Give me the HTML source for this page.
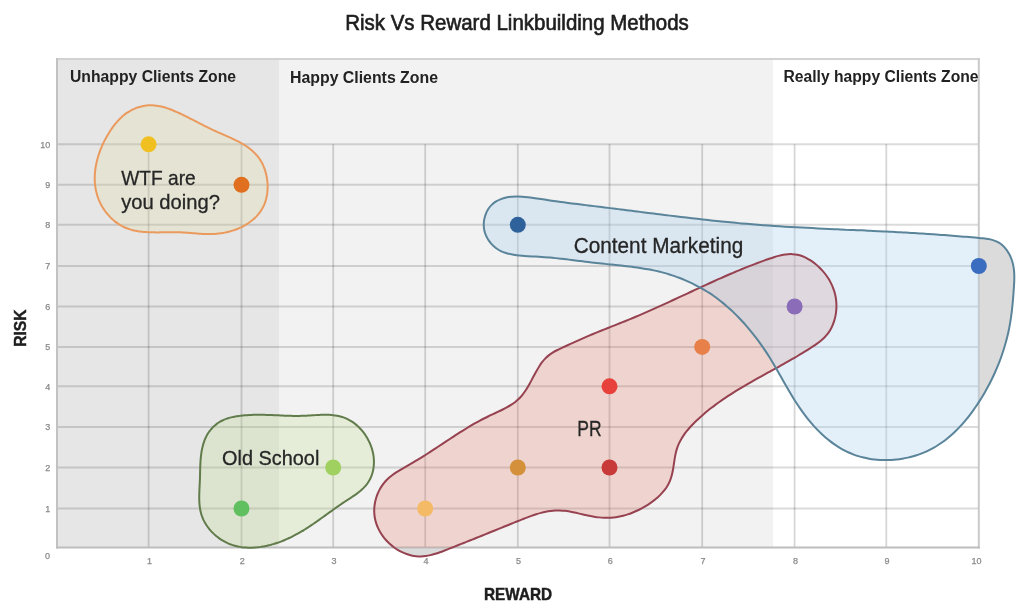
<!DOCTYPE html>
<html><head><meta charset="utf-8"><style>
html,body{margin:0;padding:0;background:#fff;width:1024px;height:613px;overflow:hidden}
svg{display:block;filter:blur(0.5px);font-family:"Liberation Sans",sans-serif}
</style></head><body>
<svg width="1024" height="613" viewBox="0 0 1024 613">
<defs>
<clipPath id="plot"><rect x="57" y="59" width="921.8" height="488.5"/></clipPath>
<clipPath id="outside"><path clip-rule="evenodd" d="M0,0H1024V613H0Z M57,59V547.5H978.8V59Z"/></clipPath>
</defs>
<rect x="0" y="0" width="1024" height="613" fill="#fff"/>
<text x="517" y="30.4" text-anchor="middle" font-size="21.3" fill="#1e1e1e" stroke="#1e1e1e" stroke-width="0.65" textLength="343.5" lengthAdjust="spacingAndGlyphs">Risk Vs Reward Linkbuilding Methods</text>
<rect x="57" y="59" width="222" height="488.5" fill="#e6e6e6"/>
<rect x="279" y="59" width="494" height="488.5" fill="#f2f2f2"/>
<g stroke="#000" stroke-opacity="0.14" stroke-width="2"><line x1="57" y1="508.5" x2="978.8" y2="508.5"/><line x1="57" y1="467.5" x2="978.8" y2="467.5"/><line x1="57" y1="426.9" x2="978.8" y2="426.9"/><line x1="57" y1="386.3" x2="978.8" y2="386.3"/><line x1="57" y1="346.9" x2="978.8" y2="346.9"/><line x1="57" y1="306.5" x2="978.8" y2="306.5"/><line x1="57" y1="266.0" x2="978.8" y2="266.0"/><line x1="57" y1="224.8" x2="978.8" y2="224.8"/><line x1="57" y1="184.8" x2="978.8" y2="184.8"/><line x1="57" y1="144.3" x2="978.8" y2="144.3"/></g>
<g stroke="#000" stroke-opacity="0.16" stroke-width="1.8"><line x1="148.6" y1="144.3" x2="148.6" y2="547.5"/><line x1="241.5" y1="144.3" x2="241.5" y2="547.5"/><line x1="333.2" y1="144.3" x2="333.2" y2="547.5"/><line x1="425.2" y1="144.3" x2="425.2" y2="547.5"/><line x1="517.8" y1="144.3" x2="517.8" y2="547.5"/><line x1="609.5" y1="144.3" x2="609.5" y2="547.5"/><line x1="702.2" y1="144.3" x2="702.2" y2="547.5"/><line x1="794.6" y1="144.3" x2="794.6" y2="547.5"/><line x1="886.3" y1="144.3" x2="886.3" y2="547.5"/></g>
<g fill="#dbdbdb" clip-path="url(#outside)">
<path d="M374.25,508.97 C374.32,507.33 374.49,505.67 374.74,504.05 C375.00,502.41 375.36,500.77 375.80,499.17 C376.24,497.57 376.77,495.98 377.39,494.43 C378.00,492.88 378.70,491.36 379.48,489.89 C380.25,488.43 381.11,487.01 382.04,485.65 C382.97,484.30 383.97,483.00 385.04,481.78 C386.11,480.56 387.26,479.42 388.45,478.33 C389.64,477.24 390.90,476.22 392.19,475.24 C393.48,474.26 394.83,473.34 396.19,472.44 C397.55,471.54 398.96,470.69 400.37,469.84 C401.78,469.00 403.22,468.18 404.65,467.37 C406.09,466.55 407.54,465.75 408.97,464.93 C410.40,464.11 411.83,463.29 413.25,462.46 C414.67,461.63 416.07,460.79 417.47,459.94 C418.87,459.09 420.26,458.23 421.64,457.37 C423.03,456.50 424.40,455.63 425.78,454.76 C427.15,453.88 428.51,453.00 429.88,452.11 C431.24,451.23 432.59,450.34 433.95,449.45 C435.30,448.56 436.66,447.66 438.01,446.77 C439.36,445.88 440.71,444.98 442.06,444.08 C443.41,443.19 444.76,442.29 446.11,441.39 C447.46,440.50 448.81,439.60 450.17,438.71 C451.52,437.82 452.88,436.93 454.24,436.05 C455.61,435.17 456.97,434.28 458.35,433.41 C459.72,432.53 461.10,431.66 462.48,430.80 C463.87,429.94 465.26,429.08 466.66,428.23 C468.06,427.38 469.47,426.54 470.88,425.71 C472.30,424.87 473.73,424.05 475.17,423.24 C476.61,422.42 478.06,421.62 479.52,420.83 C480.99,420.04 482.46,419.26 483.95,418.50 C485.44,417.73 486.94,416.98 488.46,416.24 C489.98,415.50 491.52,414.78 493.05,414.06 C494.59,413.34 496.15,412.64 497.69,411.92 C499.23,411.21 500.77,410.49 502.28,409.75 C503.79,409.00 505.29,408.25 506.75,407.45 C508.20,406.65 509.64,405.84 511.01,404.95 C512.38,404.08 513.72,403.17 514.99,402.19 C516.25,401.21 517.46,400.17 518.59,399.07 C519.73,397.96 520.79,396.79 521.80,395.57 C522.82,394.35 523.77,393.07 524.69,391.76 C525.61,390.45 526.47,389.09 527.32,387.71 C528.17,386.32 528.97,384.90 529.77,383.47 C530.57,382.04 531.34,380.58 532.12,379.12 C532.90,377.67 533.65,376.19 534.43,374.73 C535.22,373.28 535.99,371.82 536.81,370.39 C537.62,368.97 538.45,367.55 539.33,366.18 C540.20,364.83 541.11,363.48 542.08,362.21 C543.05,360.95 544.07,359.71 545.16,358.57 C546.26,357.43 547.42,356.34 548.66,355.35 C549.91,354.35 551.25,353.46 552.62,352.61 C554.01,351.75 555.47,350.99 556.93,350.24 C558.41,349.48 559.93,348.79 561.43,348.08 C562.94,347.37 564.46,346.68 565.97,345.99 C567.48,345.29 568.99,344.60 570.49,343.91 C571.99,343.22 573.50,342.53 575.00,341.85 C576.50,341.17 578.00,340.49 579.50,339.82 C581.00,339.15 582.50,338.48 584.00,337.82 C585.51,337.17 587.01,336.52 588.52,335.87 C590.03,335.23 591.54,334.60 593.05,333.97 C594.57,333.34 596.08,332.72 597.60,332.10 C599.12,331.48 600.64,330.87 602.16,330.26 C603.68,329.66 605.20,329.05 606.72,328.45 C608.24,327.85 609.76,327.25 611.29,326.65 C612.81,326.05 614.33,325.45 615.85,324.85 C617.37,324.24 618.89,323.64 620.41,323.04 C621.93,322.43 623.45,321.83 624.97,321.21 C626.48,320.60 628.00,319.99 629.51,319.36 C631.02,318.74 632.53,318.12 634.04,317.48 C635.55,316.85 637.05,316.21 638.56,315.57 C640.06,314.93 641.56,314.28 643.06,313.63 C644.56,312.98 646.06,312.33 647.55,311.67 C649.05,311.01 650.54,310.34 652.04,309.68 C653.53,309.01 655.02,308.34 656.51,307.67 C658.00,307.00 659.49,306.32 660.98,305.65 C662.47,304.97 663.95,304.29 665.44,303.61 C666.93,302.93 668.41,302.24 669.90,301.56 C671.38,300.87 672.87,300.19 674.35,299.50 C675.84,298.81 677.32,298.12 678.80,297.43 C680.29,296.74 681.77,296.05 683.25,295.36 C684.74,294.67 686.22,293.98 687.70,293.29 C689.19,292.60 690.67,291.91 692.16,291.22 C693.64,290.53 695.13,289.84 696.61,289.15 C698.10,288.46 699.58,287.77 701.07,287.09 C702.56,286.40 704.04,285.72 705.53,285.04 C707.02,284.36 708.51,283.67 710.00,283.00 C711.49,282.32 712.98,281.64 714.48,280.97 C715.97,280.30 717.47,279.63 718.96,278.96 C720.46,278.30 721.96,277.63 723.46,276.98 C724.96,276.32 726.46,275.66 727.96,275.01 C729.47,274.36 730.97,273.71 732.48,273.07 C733.99,272.42 735.50,271.79 737.01,271.15 C738.52,270.52 740.04,269.89 741.56,269.27 C743.07,268.65 744.59,268.03 746.12,267.42 C747.64,266.81 749.17,266.20 750.69,265.60 C752.22,265.01 753.76,264.41 755.29,263.83 C756.83,263.24 758.36,262.66 759.91,262.09 C761.45,261.52 762.99,260.95 764.54,260.40 C766.09,259.84 767.64,259.29 769.20,258.75 C770.75,258.22 772.31,257.69 773.88,257.21 C775.43,256.73 777.00,256.26 778.57,255.86 C780.12,255.47 781.69,255.11 783.26,254.83 C784.82,254.56 786.39,254.34 787.95,254.22 C789.51,254.11 791.08,254.06 792.64,254.14 C794.20,254.21 795.76,254.38 797.30,254.69 C798.87,255.00 800.43,255.43 801.95,255.98 C803.51,256.54 805.04,257.25 806.54,258.03 C808.06,258.82 809.54,259.74 810.98,260.69 C812.43,261.66 813.84,262.71 815.19,263.80 C816.53,264.88 817.83,266.03 819.08,267.21 C820.31,268.38 821.49,269.60 822.61,270.86 C823.72,272.11 824.78,273.41 825.78,274.74 C826.77,276.06 827.70,277.42 828.57,278.82 C829.43,280.21 830.23,281.63 830.96,283.09 C831.69,284.53 832.35,286.01 832.94,287.52 C833.53,289.02 834.05,290.55 834.49,292.09 C834.94,293.64 835.31,295.21 835.60,296.79 C835.90,298.38 836.12,299.99 836.26,301.60 C836.40,303.22 836.46,304.85 836.44,306.48 C836.42,308.13 836.32,309.78 836.14,311.42 C835.96,313.07 835.70,314.72 835.36,316.34 C835.02,317.96 834.59,319.58 834.09,321.15 C833.59,322.72 833.00,324.28 832.34,325.79 C831.67,327.28 830.93,328.75 830.10,330.16 C829.28,331.55 828.37,332.91 827.38,334.19 C826.40,335.46 825.32,336.66 824.18,337.80 C823.04,338.93 821.81,339.98 820.56,340.99 C819.30,342.01 817.97,342.95 816.64,343.89 C815.31,344.83 813.94,345.73 812.57,346.63 C811.21,347.53 809.83,348.42 808.45,349.30 C807.06,350.18 805.67,351.05 804.28,351.92 C802.88,352.78 801.48,353.63 800.07,354.48 C798.66,355.33 797.25,356.17 795.83,357.00 C794.41,357.83 792.99,358.66 791.56,359.48 C790.13,360.31 788.70,361.12 787.27,361.93 C785.84,362.75 784.40,363.56 782.96,364.36 C781.52,365.17 780.08,365.97 778.63,366.77 C777.19,367.57 775.75,368.37 774.30,369.17 C772.86,369.96 771.41,370.76 769.96,371.55 C768.52,372.35 767.07,373.15 765.63,373.94 C764.18,374.74 762.74,375.54 761.29,376.34 C759.85,377.14 758.41,377.94 756.97,378.74 C755.53,379.55 754.10,380.36 752.66,381.17 C751.23,381.98 749.80,382.80 748.38,383.62 C746.95,384.44 745.53,385.27 744.11,386.10 C742.70,386.93 741.29,387.77 739.88,388.62 C738.48,389.46 737.08,390.31 735.68,391.18 C734.29,392.04 732.90,392.91 731.52,393.78 C730.14,394.66 728.77,395.55 727.41,396.45 C726.04,397.35 724.69,398.25 723.34,399.17 C721.99,400.09 720.65,401.02 719.32,401.97 C718.00,402.91 716.68,403.87 715.37,404.83 C714.06,405.80 712.76,406.79 711.48,407.78 C710.19,408.78 708.91,409.79 707.65,410.82 C706.39,411.84 705.14,412.88 703.90,413.94 C702.66,415.00 701.43,416.07 700.22,417.16 C699.01,418.26 697.81,419.37 696.63,420.49 C695.45,421.62 694.28,422.77 693.14,423.94 C692.00,425.10 690.88,426.29 689.80,427.51 C688.72,428.72 687.66,429.96 686.66,431.22 C685.65,432.49 684.68,433.78 683.77,435.10 C682.87,436.43 682.00,437.78 681.20,439.16 C680.41,440.55 679.66,441.97 679.00,443.42 C678.33,444.88 677.73,446.37 677.21,447.89 C676.69,449.42 676.26,451.00 675.88,452.58 C675.49,454.18 675.20,455.81 674.91,457.45 C674.61,459.09 674.38,460.75 674.13,462.41 C673.87,464.07 673.65,465.73 673.38,467.39 C673.11,469.03 672.84,470.68 672.49,472.30 C672.14,473.91 671.77,475.51 671.29,477.07 C670.82,478.62 670.27,480.16 669.62,481.63 C668.97,483.10 668.22,484.53 667.39,485.91 C666.55,487.30 665.62,488.63 664.64,489.92 C663.64,491.22 662.56,492.46 661.44,493.66 C660.31,494.87 659.11,496.02 657.87,497.14 C656.62,498.26 655.32,499.33 653.99,500.36 C652.66,501.39 651.28,502.38 649.89,503.32 C648.49,504.27 647.06,505.18 645.61,506.04 C644.18,506.91 642.72,507.74 641.24,508.52 C639.78,509.31 638.30,510.05 636.81,510.75 C635.32,511.44 633.81,512.10 632.30,512.71 C630.79,513.31 629.26,513.87 627.72,514.37 C626.19,514.88 624.64,515.33 623.08,515.73 C621.52,516.13 619.95,516.48 618.37,516.77 C616.79,517.05 615.20,517.29 613.60,517.45 C612.00,517.62 610.39,517.73 608.77,517.78 C607.15,517.83 605.52,517.81 603.89,517.74 C602.25,517.67 600.61,517.54 598.98,517.37 C597.33,517.20 595.69,516.97 594.05,516.71 C592.41,516.44 590.77,516.13 589.14,515.80 C587.51,515.47 585.88,515.09 584.25,514.73 C582.62,514.36 580.99,513.97 579.37,513.60 C577.75,513.23 576.13,512.85 574.51,512.51 C572.89,512.17 571.28,511.84 569.66,511.56 C568.05,511.28 566.44,511.03 564.83,510.84 C563.23,510.66 561.62,510.51 560.01,510.46 C558.41,510.40 556.81,510.41 555.21,510.49 C553.62,510.57 552.02,510.73 550.43,510.94 C548.84,511.16 547.25,511.44 545.67,511.76 C544.08,512.09 542.50,512.48 540.92,512.90 C539.34,513.32 537.76,513.79 536.20,514.28 C534.62,514.78 533.06,515.31 531.49,515.87 C529.93,516.42 528.37,517.00 526.82,517.59 C525.26,518.18 523.71,518.80 522.16,519.41 C520.62,520.02 519.08,520.64 517.54,521.25 C516.00,521.87 514.47,522.48 512.94,523.10 C511.41,523.71 509.89,524.33 508.36,524.95 C506.84,525.56 505.32,526.17 503.81,526.79 C502.29,527.40 500.78,528.01 499.26,528.63 C497.75,529.24 496.24,529.85 494.73,530.47 C493.23,531.08 491.72,531.69 490.21,532.30 C488.71,532.91 487.20,533.52 485.70,534.13 C484.19,534.74 482.68,535.35 481.18,535.96 C479.67,536.57 478.17,537.18 476.66,537.79 C475.15,538.40 473.64,539.00 472.13,539.61 C470.62,540.22 469.11,540.82 467.60,541.43 C466.08,542.03 464.57,542.64 463.05,543.24 C461.53,543.85 460.00,544.45 458.48,545.05 C456.95,545.66 455.42,546.26 453.89,546.86 C452.35,547.46 450.82,548.06 449.28,548.66 C447.73,549.26 446.18,549.86 444.63,550.46 C443.08,551.05 441.52,551.65 439.96,552.21 C438.40,552.77 436.83,553.32 435.25,553.81 C433.69,554.29 432.11,554.75 430.52,555.13 C428.94,555.50 427.35,555.83 425.75,556.05 C424.16,556.27 422.56,556.42 420.96,556.45 C419.36,556.49 417.74,556.41 416.14,556.24 C414.54,556.07 412.93,555.79 411.35,555.42 C409.76,555.05 408.18,554.58 406.64,554.04 C405.08,553.49 403.55,552.85 402.06,552.14 C400.56,551.43 399.09,550.63 397.66,549.77 C396.24,548.91 394.85,547.97 393.52,546.97 C392.18,545.97 390.89,544.90 389.66,543.78 C388.44,542.66 387.26,541.48 386.14,540.25 C385.04,539.02 383.98,537.73 383.00,536.40 C382.02,535.08 381.11,533.70 380.27,532.29 C379.44,530.88 378.68,529.42 378.01,527.94 C377.34,526.45 376.74,524.93 376.24,523.39 C375.74,521.85 375.33,520.27 375.01,518.68 C374.69,517.10 374.47,515.48 374.34,513.86 C374.22,512.24 374.18,510.60 374.25,508.97 Z"/><path d="M483.73,224.99 C483.71,223.12 483.90,221.20 484.25,219.34 C484.60,217.48 485.15,215.60 485.85,213.84 C486.55,212.09 487.42,210.37 488.44,208.82 C489.45,207.30 490.62,205.85 491.92,204.61 C493.19,203.39 494.64,202.32 496.14,201.40 C497.65,200.48 499.29,199.74 500.94,199.10 C502.61,198.47 504.37,197.99 506.13,197.60 C507.89,197.21 509.71,196.95 511.51,196.77 C513.31,196.58 515.14,196.51 516.95,196.50 C518.78,196.48 520.61,196.56 522.44,196.68 C524.28,196.79 526.11,196.98 527.95,197.19 C529.79,197.40 531.64,197.66 533.48,197.92 C535.32,198.18 537.16,198.48 539.01,198.76 C540.85,199.04 542.69,199.32 544.52,199.60 C546.36,199.87 548.19,200.14 550.03,200.41 C551.86,200.67 553.69,200.93 555.52,201.19 C557.35,201.44 559.18,201.70 561.00,201.94 C562.83,202.19 564.65,202.44 566.48,202.68 C568.30,202.92 570.12,203.16 571.94,203.39 C573.76,203.63 575.58,203.86 577.40,204.09 C579.21,204.32 581.03,204.55 582.85,204.78 C584.66,205.01 586.48,205.23 588.29,205.46 C590.11,205.68 591.92,205.90 593.74,206.13 C595.55,206.35 597.36,206.57 599.18,206.79 C600.99,207.02 602.80,207.24 604.62,207.46 C606.43,207.68 608.24,207.91 610.06,208.13 C611.87,208.35 613.68,208.58 615.50,208.80 C617.31,209.03 619.13,209.26 620.94,209.48 C622.76,209.71 624.57,209.94 626.39,210.16 C628.20,210.39 630.02,210.62 631.83,210.85 C633.65,211.08 635.46,211.31 637.28,211.54 C639.10,211.77 640.91,211.99 642.73,212.22 C644.55,212.45 646.37,212.68 648.18,212.91 C650.00,213.14 651.82,213.37 653.64,213.59 C655.46,213.82 657.27,214.05 659.09,214.27 C660.91,214.50 662.73,214.73 664.55,214.95 C666.37,215.18 668.19,215.40 670.01,215.62 C671.83,215.85 673.65,216.07 675.47,216.29 C677.29,216.51 679.11,216.73 680.93,216.95 C682.75,217.16 684.58,217.38 686.40,217.60 C688.22,217.81 690.04,218.02 691.86,218.24 C693.69,218.45 695.51,218.66 697.33,218.86 C699.16,219.07 700.98,219.28 702.80,219.48 C704.63,219.69 706.45,219.89 708.28,220.09 C710.10,220.28 711.93,220.48 713.75,220.68 C715.58,220.87 717.40,221.06 719.23,221.25 C721.05,221.44 722.88,221.63 724.71,221.81 C726.53,221.99 728.36,222.17 730.19,222.35 C732.01,222.53 733.84,222.70 735.67,222.87 C737.50,223.04 739.32,223.21 741.15,223.38 C742.98,223.54 744.81,223.70 746.64,223.86 C748.47,224.02 750.30,224.17 752.13,224.32 C753.96,224.47 755.79,224.61 757.62,224.76 C759.45,224.90 761.28,225.04 763.11,225.17 C764.94,225.31 766.77,225.44 768.60,225.57 C770.44,225.69 772.27,225.82 774.10,225.94 C775.93,226.06 777.76,226.18 779.60,226.30 C781.43,226.41 783.26,226.52 785.09,226.63 C786.93,226.74 788.76,226.85 790.59,226.96 C792.43,227.06 794.26,227.17 796.09,227.27 C797.93,227.37 799.76,227.47 801.59,227.56 C803.43,227.66 805.26,227.75 807.09,227.85 C808.93,227.94 810.76,228.03 812.59,228.12 C814.43,228.21 816.26,228.30 818.09,228.39 C819.93,228.48 821.76,228.56 823.59,228.65 C825.43,228.73 827.26,228.82 829.09,228.90 C830.93,228.98 832.76,229.07 834.59,229.15 C836.42,229.23 838.26,229.31 840.09,229.40 C841.92,229.48 843.75,229.56 845.58,229.64 C847.42,229.72 849.25,229.80 851.08,229.88 C852.91,229.96 854.74,230.05 856.57,230.13 C858.40,230.21 860.23,230.29 862.06,230.37 C863.90,230.46 865.72,230.54 867.55,230.63 C869.38,230.71 871.21,230.80 873.04,230.88 C874.87,230.97 876.70,231.06 878.53,231.14 C880.35,231.23 882.18,231.32 884.01,231.42 C885.84,231.51 887.66,231.60 889.49,231.70 C891.32,231.79 893.14,231.89 894.97,231.99 C896.79,232.09 898.62,232.19 900.44,232.29 C902.27,232.39 904.09,232.49 905.92,232.60 C907.74,232.71 909.57,232.81 911.39,232.92 C913.22,233.03 915.04,233.15 916.87,233.26 C918.70,233.37 920.52,233.49 922.35,233.61 C924.18,233.72 926.00,233.84 927.83,233.97 C929.66,234.09 931.49,234.21 933.32,234.34 C935.14,234.46 936.97,234.59 938.81,234.72 C940.64,234.85 942.47,234.99 944.30,235.12 C946.14,235.26 947.97,235.40 949.80,235.54 C951.64,235.68 953.48,235.82 955.31,235.96 C957.15,236.11 958.99,236.25 960.83,236.40 C962.67,236.55 964.52,236.70 966.36,236.86 C968.21,237.01 970.05,237.17 971.90,237.33 C973.75,237.49 975.60,237.65 977.45,237.82 C979.30,237.98 981.16,238.13 983.00,238.34 C984.82,238.55 986.66,238.76 988.44,239.10 C990.21,239.44 991.97,239.81 993.64,240.37 C995.30,240.93 996.93,241.59 998.44,242.45 C999.95,243.32 1001.39,244.38 1002.70,245.56 C1004.03,246.76 1005.25,248.15 1006.35,249.60 C1007.47,251.07 1008.47,252.69 1009.34,254.33 C1010.23,255.98 1010.99,257.74 1011.63,259.50 C1012.26,261.25 1012.76,263.07 1013.16,264.88 C1013.55,266.68 1013.81,268.51 1014.00,270.33 C1014.19,272.16 1014.27,274.01 1014.30,275.85 C1014.34,277.69 1014.29,279.54 1014.23,281.39 C1014.16,283.25 1014.04,285.10 1013.92,286.95 C1013.80,288.80 1013.66,290.65 1013.53,292.50 C1013.39,294.35 1013.25,296.19 1013.10,298.03 C1012.95,299.87 1012.79,301.70 1012.61,303.54 C1012.44,305.37 1012.26,307.19 1012.05,309.02 C1011.85,310.84 1011.64,312.66 1011.40,314.48 C1011.16,316.29 1010.91,318.10 1010.63,319.91 C1010.34,321.71 1010.04,323.51 1009.71,325.31 C1009.39,327.10 1009.03,328.89 1008.66,330.68 C1008.28,332.46 1007.88,334.24 1007.45,336.02 C1007.02,337.79 1006.57,339.56 1006.10,341.32 C1005.62,343.08 1005.13,344.84 1004.61,346.59 C1004.08,348.34 1003.54,350.08 1002.97,351.81 C1002.40,353.55 1001.81,355.28 1001.20,357.00 C1000.58,358.72 999.95,360.43 999.29,362.14 C998.63,363.84 997.94,365.54 997.24,367.23 C996.54,368.92 995.81,370.60 995.06,372.27 C994.31,373.95 993.54,375.61 992.75,377.27 C991.96,378.92 991.15,380.57 990.31,382.21 C989.48,383.84 988.62,385.47 987.75,387.09 C986.87,388.71 985.97,390.32 985.05,391.92 C984.14,393.51 983.20,395.10 982.24,396.68 C981.28,398.26 980.30,399.83 979.30,401.38 C978.30,402.94 977.29,404.49 976.25,406.02 C975.21,407.55 974.15,409.07 973.07,410.57 C971.99,412.07 970.88,413.55 969.76,415.02 C968.63,416.48 967.49,417.93 966.32,419.35 C965.15,420.78 963.95,422.18 962.74,423.56 C961.52,424.93 960.28,426.28 959.02,427.61 C957.75,428.93 956.46,430.23 955.15,431.49 C953.84,432.75 952.50,433.99 951.13,435.19 C949.77,436.39 948.38,437.56 946.96,438.69 C945.55,439.82 944.10,440.92 942.63,441.98 C941.16,443.04 939.66,444.06 938.14,445.03 C936.61,446.01 935.06,446.94 933.48,447.83 C931.90,448.72 930.29,449.57 928.65,450.37 C927.01,451.17 925.34,451.92 923.64,452.62 C921.95,453.33 920.22,453.98 918.48,454.59 C916.74,455.19 914.97,455.75 913.18,456.26 C911.40,456.77 909.59,457.23 907.78,457.63 C905.96,458.04 904.13,458.40 902.29,458.71 C900.45,459.02 898.60,459.28 896.74,459.48 C894.89,459.69 893.02,459.85 891.16,459.95 C889.29,460.05 887.43,460.11 885.56,460.11 C883.70,460.11 881.84,460.05 879.98,459.95 C878.13,459.84 876.28,459.69 874.44,459.48 C872.60,459.26 870.77,459.00 868.95,458.68 C867.14,458.36 865.34,457.99 863.56,457.56 C861.78,457.14 860.02,456.66 858.28,456.12 C856.54,455.58 854.82,454.99 853.13,454.35 C851.44,453.70 849.78,453.00 848.14,452.24 C846.50,451.49 844.89,450.68 843.30,449.83 C841.72,448.97 840.16,448.06 838.62,447.12 C837.09,446.17 835.58,445.17 834.10,444.14 C832.62,443.10 831.16,442.02 829.73,440.90 C828.29,439.79 826.89,438.63 825.51,437.44 C824.12,436.25 822.77,435.02 821.43,433.76 C820.10,432.51 818.79,431.21 817.51,429.90 C816.23,428.58 814.97,427.23 813.73,425.86 C812.50,424.49 811.29,423.09 810.10,421.67 C808.91,420.25 807.75,418.81 806.61,417.35 C805.47,415.90 804.35,414.42 803.26,412.92 C802.16,411.43 801.09,409.93 800.05,408.41 C799.00,406.89 797.98,405.36 796.97,403.82 C795.96,402.28 794.98,400.72 794.01,399.17 C793.04,397.61 792.08,396.04 791.14,394.47 C790.19,392.90 789.27,391.32 788.34,389.74 C787.42,388.15 786.51,386.57 785.60,384.98 C784.69,383.39 783.79,381.80 782.88,380.20 C781.98,378.61 781.08,377.02 780.18,375.43 C779.28,373.84 778.37,372.25 777.46,370.66 C776.55,369.07 775.64,367.49 774.71,365.91 C773.78,364.33 772.85,362.76 771.90,361.19 C770.95,359.63 769.99,358.07 769.02,356.52 C768.04,354.97 767.05,353.42 766.04,351.89 C765.03,350.36 764.00,348.84 762.96,347.33 C761.92,345.82 760.86,344.32 759.79,342.83 C758.71,341.34 757.62,339.86 756.51,338.40 C755.40,336.93 754.28,335.48 753.14,334.04 C752.00,332.60 750.84,331.18 749.66,329.77 C748.49,328.36 747.30,326.96 746.09,325.58 C744.88,324.21 743.66,322.84 742.42,321.49 C741.17,320.15 739.92,318.82 738.64,317.50 C737.36,316.19 736.07,314.89 734.76,313.61 C733.45,312.34 732.12,311.08 730.78,309.84 C729.43,308.60 728.07,307.38 726.69,306.18 C725.32,304.98 723.92,303.80 722.50,302.65 C721.09,301.49 719.66,300.36 718.21,299.25 C716.75,298.14 715.28,297.06 713.79,296.01 C712.30,294.95 710.79,293.93 709.26,292.93 C707.73,291.94 706.18,290.97 704.61,290.04 C703.04,289.10 701.44,288.21 699.83,287.34 C698.21,286.47 696.57,285.64 694.93,284.82 C693.28,284.01 691.61,283.22 689.94,282.44 C688.27,281.66 686.59,280.88 684.90,280.15 C683.21,279.41 681.51,278.70 679.80,278.03 C678.10,277.36 676.38,276.72 674.65,276.12 C672.92,275.52 671.18,274.96 669.44,274.42 C667.70,273.89 665.94,273.39 664.18,272.91 C662.42,272.44 660.66,271.99 658.88,271.57 C657.11,271.15 655.33,270.76 653.54,270.39 C651.76,270.01 649.97,269.67 648.17,269.34 C646.37,269.01 644.57,268.70 642.77,268.41 C640.96,268.12 639.15,267.84 637.34,267.58 C635.52,267.32 633.71,267.08 631.89,266.84 C630.07,266.61 628.24,266.39 626.42,266.17 C624.60,265.96 622.77,265.76 620.94,265.56 C619.11,265.36 617.29,265.17 615.46,264.98 C613.63,264.78 611.80,264.60 609.97,264.41 C608.14,264.23 606.31,264.04 604.48,263.85 C602.66,263.66 600.83,263.47 599.01,263.27 C597.18,263.08 595.36,262.88 593.54,262.67 C591.72,262.46 589.90,262.24 588.08,262.02 C586.27,261.80 584.45,261.57 582.64,261.35 C580.82,261.12 579.01,260.89 577.20,260.67 C575.38,260.44 573.57,260.21 571.76,259.99 C569.94,259.77 568.13,259.54 566.31,259.33 C564.50,259.11 562.68,258.90 560.86,258.70 C559.04,258.50 557.22,258.30 555.40,258.12 C553.57,257.93 551.75,257.76 549.92,257.59 C548.09,257.43 546.26,257.28 544.42,257.14 C542.58,257.01 540.74,256.89 538.90,256.78 C537.05,256.67 535.20,256.59 533.35,256.49 C531.50,256.39 529.65,256.30 527.80,256.18 C525.95,256.06 524.10,255.94 522.25,255.77 C520.41,255.61 518.57,255.43 516.74,255.18 C514.90,254.94 513.07,254.68 511.26,254.31 C509.46,253.95 507.66,253.55 505.91,253.00 C504.18,252.46 502.46,251.82 500.84,251.03 C499.22,250.23 497.65,249.28 496.19,248.22 C494.73,247.15 493.34,245.94 492.09,244.64 C490.84,243.35 489.67,241.92 488.67,240.42 C487.66,238.92 486.76,237.32 486.05,235.66 C485.33,234.00 484.75,232.25 484.36,230.48 C483.97,228.70 483.75,226.83 483.73,224.99 Z"/><path d="M240.72,415.74 C241.42,415.65 242.13,415.57 242.83,415.50 C243.54,415.43 244.24,415.37 244.94,415.30 C245.64,415.24 246.34,415.19 247.05,415.14 C247.75,415.09 248.45,415.05 249.15,415.01 C249.85,414.97 250.55,414.94 251.24,414.91 C251.94,414.88 252.64,414.86 253.34,414.84 C254.04,414.82 254.74,414.81 255.43,414.80 C256.13,414.78 256.83,414.78 257.52,414.77 C258.22,414.77 258.92,414.77 259.61,414.77 C260.31,414.78 261.00,414.78 261.70,414.79 C262.39,414.80 263.09,414.81 263.79,414.83 C264.48,414.84 265.18,414.86 265.87,414.88 C266.57,414.90 267.26,414.92 267.96,414.94 C268.65,414.97 269.35,414.99 270.04,415.02 C270.73,415.04 271.43,415.07 272.12,415.10 C272.82,415.13 273.52,415.16 274.21,415.19 C274.91,415.22 275.60,415.25 276.30,415.28 C276.99,415.31 277.69,415.34 278.38,415.37 C279.08,415.41 279.78,415.44 280.47,415.47 C281.17,415.50 281.87,415.53 282.56,415.56 C283.26,415.59 283.96,415.62 284.66,415.64 C285.36,415.67 286.06,415.70 286.75,415.72 C287.45,415.74 288.15,415.77 288.85,415.79 C289.55,415.81 290.25,415.83 290.96,415.84 C291.66,415.86 292.36,415.88 293.06,415.89 C293.76,415.90 294.47,415.91 295.17,415.91 C295.88,415.92 296.58,415.92 297.29,415.92 C297.99,415.92 298.70,415.92 299.40,415.91 C300.11,415.90 300.82,415.89 301.53,415.87 C302.24,415.86 302.95,415.84 303.66,415.81 C304.37,415.79 305.08,415.76 305.79,415.72 C306.50,415.69 307.22,415.65 307.93,415.61 C308.65,415.57 309.36,415.52 310.07,415.48 C310.79,415.43 311.50,415.38 312.22,415.34 C312.93,415.29 313.65,415.24 314.36,415.19 C315.08,415.15 315.79,415.10 316.51,415.06 C317.22,415.01 317.93,414.97 318.64,414.93 C319.35,414.90 320.07,414.86 320.78,414.83 C321.48,414.80 322.19,414.78 322.90,414.76 C323.61,414.75 324.31,414.73 325.01,414.73 C325.72,414.73 326.42,414.73 327.12,414.75 C327.82,414.76 328.51,414.78 329.21,414.82 C329.90,414.85 330.59,414.89 331.28,414.95 C331.97,415.00 332.66,415.07 333.34,415.15 C334.02,415.23 334.70,415.32 335.38,415.43 C336.05,415.54 336.73,415.66 337.39,415.79 C338.06,415.92 338.73,416.07 339.39,416.24 C340.05,416.40 340.70,416.58 341.35,416.77 C342.00,416.96 342.65,417.17 343.29,417.39 C343.93,417.61 344.56,417.85 345.19,418.10 C345.82,418.35 346.44,418.62 347.06,418.90 C347.67,419.19 348.28,419.49 348.88,419.80 C349.49,420.12 350.08,420.45 350.67,420.80 C351.26,421.15 351.84,421.52 352.41,421.90 C352.99,422.28 353.55,422.68 354.11,423.09 C354.67,423.50 355.22,423.93 355.75,424.37 C356.30,424.81 356.83,425.26 357.35,425.73 C357.87,426.20 358.38,426.68 358.89,427.17 C359.39,427.67 359.88,428.18 360.36,428.69 C360.85,429.21 361.32,429.74 361.78,430.28 C362.25,430.83 362.70,431.38 363.14,431.94 C363.58,432.51 364.01,433.08 364.43,433.66 C364.85,434.24 365.25,434.84 365.65,435.44 C366.04,436.04 366.42,436.65 366.79,437.27 C367.16,437.89 367.52,438.51 367.87,439.15 C368.21,439.78 368.54,440.42 368.86,441.07 C369.18,441.71 369.48,442.37 369.78,443.03 C370.07,443.69 370.34,444.35 370.61,445.02 C370.87,445.69 371.12,446.37 371.35,447.05 C371.59,447.73 371.81,448.41 372.01,449.10 C372.21,449.79 372.40,450.48 372.58,451.17 C372.75,451.86 372.91,452.56 373.05,453.26 C373.19,453.96 373.31,454.66 373.42,455.36 C373.53,456.06 373.62,456.76 373.70,457.47 C373.77,458.17 373.83,458.87 373.87,459.58 C373.91,460.28 373.93,460.98 373.94,461.68 C373.94,462.38 373.93,463.08 373.90,463.78 C373.87,464.48 373.83,465.17 373.76,465.87 C373.70,466.56 373.62,467.24 373.52,467.93 C373.42,468.61 373.30,469.29 373.17,469.97 C373.04,470.64 372.89,471.31 372.72,471.97 C372.55,472.63 372.36,473.29 372.16,473.94 C371.95,474.59 371.73,475.23 371.49,475.86 C371.25,476.50 371.00,477.12 370.72,477.74 C370.45,478.35 370.16,478.96 369.84,479.56 C369.54,480.16 369.21,480.74 368.86,481.32 C368.52,481.89 368.15,482.46 367.77,483.01 C367.39,483.56 366.99,484.10 366.58,484.63 C366.16,485.16 365.73,485.67 365.28,486.18 C364.83,486.68 364.37,487.18 363.89,487.66 C363.41,488.15 362.92,488.62 362.42,489.09 C361.91,489.56 361.40,490.01 360.87,490.46 C360.34,490.91 359.81,491.36 359.26,491.79 C358.71,492.23 358.16,492.66 357.59,493.08 C357.03,493.51 356.46,493.92 355.88,494.34 C355.30,494.75 354.72,495.16 354.13,495.56 C353.54,495.97 352.94,496.37 352.35,496.77 C351.75,497.17 351.15,497.56 350.55,497.96 C349.94,498.35 349.34,498.75 348.73,499.14 C348.13,499.53 347.52,499.93 346.92,500.32 C346.31,500.71 345.71,501.10 345.11,501.50 C344.51,501.89 343.91,502.29 343.31,502.69 C342.72,503.09 342.13,503.49 341.54,503.89 C340.95,504.29 340.36,504.69 339.77,505.09 C339.19,505.50 338.60,505.90 338.02,506.31 C337.44,506.71 336.86,507.12 336.28,507.52 C335.71,507.93 335.13,508.34 334.56,508.75 C333.98,509.15 333.41,509.56 332.84,509.97 C332.27,510.38 331.70,510.79 331.13,511.20 C330.56,511.61 329.99,512.01 329.42,512.42 C328.86,512.83 328.29,513.24 327.73,513.65 C327.16,514.06 326.60,514.47 326.03,514.87 C325.47,515.28 324.91,515.69 324.34,516.10 C323.78,516.50 323.22,516.91 322.66,517.31 C322.09,517.72 321.53,518.12 320.97,518.52 C320.41,518.93 319.84,519.33 319.28,519.73 C318.72,520.13 318.15,520.53 317.59,520.93 C317.03,521.32 316.46,521.72 315.90,522.11 C315.33,522.51 314.77,522.90 314.20,523.29 C313.63,523.68 313.06,524.07 312.49,524.46 C311.93,524.84 311.36,525.23 310.78,525.61 C310.21,525.99 309.64,526.37 309.07,526.75 C308.49,527.12 307.92,527.50 307.34,527.87 C306.76,528.24 306.18,528.61 305.60,528.98 C305.02,529.34 304.43,529.71 303.85,530.07 C303.26,530.43 302.67,530.79 302.08,531.14 C301.49,531.49 300.90,531.84 300.30,532.19 C299.71,532.54 299.11,532.88 298.51,533.22 C297.91,533.56 297.30,533.90 296.70,534.23 C296.09,534.56 295.48,534.89 294.87,535.21 C294.25,535.54 293.64,535.86 293.02,536.17 C292.40,536.49 291.77,536.80 291.15,537.10 C290.52,537.41 289.89,537.71 289.25,538.01 C288.62,538.31 287.98,538.60 287.34,538.89 C286.69,539.17 286.04,539.46 285.39,539.73 C284.74,540.01 284.09,540.28 283.43,540.55 C282.77,540.82 282.11,541.08 281.44,541.33 C280.77,541.59 280.10,541.84 279.43,542.08 C278.76,542.32 278.08,542.56 277.40,542.79 C276.72,543.02 276.04,543.24 275.36,543.46 C274.67,543.68 273.99,543.89 273.30,544.09 C272.61,544.29 271.92,544.49 271.22,544.68 C270.53,544.86 269.84,545.05 269.14,545.22 C268.44,545.39 267.74,545.55 267.04,545.71 C266.35,545.87 265.64,546.01 264.94,546.15 C264.24,546.29 263.54,546.42 262.83,546.54 C262.13,546.67 261.43,546.78 260.72,546.88 C260.02,546.99 259.32,547.08 258.61,547.17 C257.91,547.25 257.20,547.32 256.50,547.39 C255.79,547.45 255.09,547.51 254.39,547.55 C253.68,547.60 252.98,547.63 252.28,547.66 C251.58,547.68 250.88,547.69 250.18,547.70 C249.48,547.70 248.78,547.69 248.08,547.67 C247.39,547.65 246.69,547.62 246.00,547.57 C245.31,547.53 244.61,547.47 243.92,547.41 C243.24,547.34 242.55,547.26 241.86,547.17 C241.18,547.08 240.50,546.98 239.82,546.86 C239.14,546.74 238.47,546.61 237.79,546.47 C237.12,546.33 236.45,546.17 235.78,546.01 C235.12,545.84 234.45,545.66 233.80,545.46 C233.14,545.26 232.48,545.05 231.83,544.83 C231.18,544.61 230.53,544.37 229.89,544.12 C229.25,543.87 228.61,543.60 227.98,543.32 C227.34,543.04 226.71,542.74 226.09,542.44 C225.47,542.13 224.85,541.81 224.24,541.47 C223.63,541.14 223.02,540.79 222.43,540.43 C221.83,540.06 221.24,539.69 220.66,539.30 C220.07,538.92 219.50,538.52 218.93,538.11 C218.36,537.70 217.80,537.28 217.25,536.84 C216.70,536.41 216.16,535.97 215.63,535.51 C215.09,535.06 214.57,534.59 214.06,534.11 C213.54,533.64 213.04,533.15 212.55,532.65 C212.06,532.15 211.57,531.65 211.10,531.13 C210.63,530.61 210.18,530.09 209.73,529.55 C209.28,529.02 208.85,528.47 208.42,527.92 C208.00,527.37 207.59,526.81 207.20,526.24 C206.80,525.67 206.42,525.09 206.05,524.51 C205.68,523.92 205.32,523.33 204.98,522.73 C204.64,522.13 204.31,521.52 204.00,520.91 C203.69,520.30 203.39,519.68 203.11,519.05 C202.83,518.43 202.57,517.79 202.32,517.15 C202.07,516.52 201.84,515.87 201.63,515.22 C201.41,514.57 201.22,513.92 201.03,513.26 C200.85,512.60 200.69,511.94 200.54,511.27 C200.39,510.60 200.26,509.93 200.14,509.25 C200.02,508.57 199.92,507.89 199.82,507.21 C199.73,506.52 199.65,505.83 199.58,505.14 C199.51,504.45 199.46,503.76 199.41,503.06 C199.36,502.36 199.33,501.66 199.30,500.96 C199.27,500.25 199.26,499.55 199.24,498.84 C199.23,498.13 199.23,497.43 199.23,496.72 C199.24,496.00 199.25,495.29 199.26,494.58 C199.28,493.86 199.30,493.15 199.32,492.43 C199.35,491.72 199.38,491.00 199.41,490.28 C199.44,489.57 199.47,488.85 199.51,488.13 C199.54,487.41 199.58,486.70 199.61,485.98 C199.65,485.26 199.69,484.54 199.72,483.83 C199.76,483.11 199.79,482.40 199.82,481.68 C199.85,480.97 199.88,480.26 199.91,479.54 C199.94,478.83 199.96,478.12 199.98,477.41 C200.00,476.71 200.02,476.00 200.03,475.29 C200.05,474.59 200.07,473.88 200.08,473.17 C200.10,472.47 200.11,471.77 200.13,471.06 C200.15,470.36 200.16,469.66 200.18,468.96 C200.20,468.25 200.22,467.55 200.25,466.85 C200.27,466.15 200.30,465.45 200.33,464.75 C200.36,464.05 200.39,463.34 200.43,462.64 C200.47,461.94 200.51,461.24 200.56,460.54 C200.61,459.84 200.67,459.14 200.73,458.43 C200.79,457.73 200.86,457.03 200.94,456.32 C201.02,455.62 201.10,454.92 201.19,454.22 C201.29,453.51 201.39,452.81 201.50,452.11 C201.61,451.41 201.73,450.72 201.86,450.02 C201.99,449.33 202.13,448.63 202.29,447.95 C202.44,447.26 202.60,446.57 202.78,445.89 C202.96,445.21 203.15,444.54 203.35,443.87 C203.55,443.20 203.76,442.53 203.99,441.87 C204.22,441.21 204.46,440.56 204.72,439.91 C204.98,439.27 205.25,438.63 205.54,438.00 C205.83,437.37 206.13,436.75 206.45,436.13 C206.77,435.52 207.11,434.92 207.46,434.32 C207.82,433.73 208.19,433.14 208.57,432.57 C208.95,432.00 209.36,431.43 209.77,430.88 C210.19,430.33 210.62,429.80 211.06,429.27 C211.51,428.75 211.97,428.23 212.44,427.73 C212.92,427.24 213.40,426.75 213.91,426.28 C214.41,425.81 214.92,425.36 215.45,424.92 C215.98,424.48 216.52,424.06 217.07,423.65 C217.63,423.24 218.19,422.85 218.77,422.48 C219.35,422.11 219.94,421.76 220.54,421.43 C221.14,421.09 221.75,420.78 222.37,420.48 C222.99,420.18 223.63,419.90 224.27,419.63 C224.91,419.37 225.56,419.12 226.21,418.88 C226.87,418.65 227.54,418.43 228.21,418.22 C228.88,418.02 229.56,417.83 230.24,417.65 C230.92,417.47 231.61,417.30 232.30,417.14 C232.99,416.99 233.69,416.84 234.39,416.71 C235.09,416.57 235.79,416.45 236.49,416.33 C237.19,416.22 237.90,416.11 238.60,416.01 C239.31,415.91 240.01,415.82 240.72,415.74 Z"/>
</g>
<g stroke-width="2" fill="none" stroke-linecap="square">
<path d="M57,59H978.8" stroke="#d2d2d2"/>
<path d="M978.8,59V547.5" stroke="#c9c9c9"/>
<path d="M57,59V547.5" stroke="#c2c2c2"/>
<path d="M57,547.5H978.8" stroke="#bdbdbd"/>
</g>
<g font-size="16" font-weight="bold" fill="#222">
<text x="70" y="82.3" textLength="166" lengthAdjust="spacingAndGlyphs">Unhappy Clients Zone</text>
<text x="290" y="82.6" textLength="148" lengthAdjust="spacingAndGlyphs">Happy Clients Zone</text>
<text x="783.5" y="82.4" textLength="195" lengthAdjust="spacingAndGlyphs">Really happy Clients Zone</text>
</g>
<g font-size="9" fill="#8a8a8a" stroke="#8a8a8a" stroke-width="0.25"><text x="50.2" y="511.8" text-anchor="end">1</text><text x="50.2" y="470.8" text-anchor="end">2</text><text x="50.2" y="430.2" text-anchor="end">3</text><text x="50.2" y="389.6" text-anchor="end">4</text><text x="50.2" y="350.2" text-anchor="end">5</text><text x="50.2" y="309.8" text-anchor="end">6</text><text x="50.2" y="269.3" text-anchor="end">7</text><text x="50.2" y="228.1" text-anchor="end">8</text><text x="50.2" y="188.1" text-anchor="end">9</text><text x="50.2" y="147.6" text-anchor="end">10</text><text x="149.4" y="564.2" text-anchor="middle">1</text><text x="242.3" y="564.2" text-anchor="middle">2</text><text x="334.0" y="564.2" text-anchor="middle">3</text><text x="426.0" y="564.2" text-anchor="middle">4</text><text x="518.6" y="564.2" text-anchor="middle">5</text><text x="610.3" y="564.2" text-anchor="middle">6</text><text x="703.0" y="564.2" text-anchor="middle">7</text><text x="795.4" y="564.2" text-anchor="middle">8</text><text x="887.1" y="564.2" text-anchor="middle">9</text><text x="976.6" y="564.2" text-anchor="middle">10</text><text x="47.5" y="559" text-anchor="middle">0</text></g>
<text x="25.9" y="328.1" transform="rotate(-90 25.9 328.1)" text-anchor="middle" font-size="16.6" font-weight="bold" fill="#1e1e1e" stroke="#1e1e1e" stroke-width="0.45" textLength="37.4" lengthAdjust="spacingAndGlyphs">RISK</text>
<text x="518.1" y="600.2" text-anchor="middle" font-size="16.6" font-weight="bold" fill="#1e1e1e" stroke="#1e1e1e" stroke-width="0.45" textLength="68.2" lengthAdjust="spacingAndGlyphs">REWARD</text>

<g clip-path="url(#plot)">
<path d="M150.36,105.27 C151.02,105.27 151.68,105.27 152.35,105.30 C153.01,105.32 153.67,105.36 154.33,105.42 C155.00,105.48 155.66,105.55 156.32,105.64 C156.98,105.72 157.64,105.83 158.29,105.94 C158.95,106.05 159.61,106.18 160.26,106.32 C160.92,106.46 161.57,106.62 162.23,106.78 C162.88,106.95 163.53,107.12 164.18,107.31 C164.83,107.49 165.48,107.69 166.13,107.90 C166.77,108.10 167.42,108.32 168.06,108.54 C168.71,108.77 169.35,109.00 169.99,109.24 C170.63,109.48 171.26,109.72 171.90,109.97 C172.53,110.23 173.17,110.49 173.80,110.75 C174.43,111.01 175.06,111.28 175.68,111.56 C176.31,111.83 176.93,112.11 177.56,112.39 C178.18,112.67 178.79,112.95 179.41,113.24 C180.03,113.52 180.64,113.81 181.25,114.10 C181.86,114.39 182.47,114.68 183.07,114.97 C183.68,115.26 184.28,115.56 184.88,115.85 C185.49,116.15 186.08,116.44 186.68,116.74 C187.28,117.04 187.87,117.33 188.47,117.63 C189.06,117.93 189.66,118.23 190.25,118.53 C190.84,118.83 191.43,119.14 192.02,119.44 C192.61,119.74 193.20,120.04 193.79,120.34 C194.38,120.65 194.96,120.95 195.55,121.25 C196.14,121.55 196.73,121.86 197.31,122.16 C197.90,122.46 198.49,122.77 199.07,123.07 C199.66,123.37 200.25,123.67 200.84,123.98 C201.43,124.28 202.02,124.58 202.61,124.88 C203.20,125.18 203.79,125.48 204.38,125.78 C204.97,126.08 205.56,126.38 206.16,126.67 C206.75,126.97 207.35,127.27 207.95,127.56 C208.54,127.86 209.14,128.15 209.74,128.44 C210.35,128.73 210.95,129.02 211.56,129.31 C212.16,129.60 212.77,129.89 213.38,130.18 C213.99,130.46 214.61,130.75 215.22,131.03 C215.84,131.31 216.46,131.59 217.08,131.87 C217.70,132.15 218.32,132.42 218.95,132.70 C219.57,132.97 220.20,133.25 220.83,133.52 C221.46,133.80 222.09,134.07 222.72,134.35 C223.35,134.62 223.98,134.90 224.61,135.17 C225.24,135.45 225.87,135.72 226.50,136.00 C227.13,136.28 227.76,136.56 228.39,136.84 C229.02,137.12 229.65,137.40 230.27,137.68 C230.90,137.96 231.52,138.25 232.14,138.54 C232.76,138.83 233.38,139.12 234.00,139.41 C234.62,139.71 235.23,140.01 235.84,140.31 C236.45,140.61 237.06,140.92 237.66,141.23 C238.26,141.54 238.86,141.85 239.46,142.17 C240.05,142.49 240.64,142.81 241.23,143.14 C241.81,143.47 242.39,143.81 242.97,144.15 C243.54,144.49 244.11,144.83 244.67,145.19 C245.23,145.54 245.79,145.90 246.34,146.27 C246.88,146.63 247.43,147.01 247.96,147.39 C248.49,147.77 249.02,148.16 249.54,148.55 C250.06,148.95 250.57,149.35 251.07,149.77 C251.58,150.18 252.07,150.60 252.56,151.03 C253.04,151.46 253.52,151.90 253.98,152.35 C254.45,152.80 254.91,153.26 255.35,153.73 C255.80,154.19 256.23,154.67 256.66,155.16 C257.08,155.65 257.50,156.15 257.90,156.66 C258.30,157.17 258.70,157.70 259.07,158.23 C259.45,158.76 259.82,159.31 260.18,159.87 C260.53,160.42 260.87,160.99 261.21,161.57 C261.54,162.15 261.85,162.73 262.16,163.33 C262.47,163.93 262.76,164.54 263.04,165.15 C263.32,165.76 263.59,166.39 263.85,167.02 C264.10,167.65 264.35,168.29 264.58,168.93 C264.81,169.58 265.03,170.23 265.23,170.89 C265.44,171.54 265.63,172.21 265.81,172.87 C265.99,173.54 266.15,174.22 266.31,174.89 C266.46,175.57 266.60,176.25 266.73,176.93 C266.86,177.62 266.97,178.30 267.07,178.99 C267.17,179.68 267.26,180.38 267.33,181.07 C267.41,181.76 267.47,182.46 267.51,183.15 C267.56,183.85 267.59,184.54 267.61,185.24 C267.63,185.93 267.64,186.63 267.63,187.32 C267.62,188.01 267.60,188.71 267.57,189.40 C267.53,190.09 267.48,190.77 267.42,191.46 C267.36,192.14 267.28,192.83 267.19,193.51 C267.10,194.18 267.00,194.86 266.88,195.53 C266.76,196.20 266.62,196.86 266.48,197.52 C266.33,198.18 266.17,198.84 265.99,199.49 C265.81,200.13 265.62,200.77 265.42,201.41 C265.21,202.04 264.99,202.67 264.76,203.29 C264.52,203.90 264.27,204.51 264.01,205.12 C263.75,205.72 263.47,206.31 263.17,206.89 C262.88,207.47 262.57,208.05 262.25,208.61 C261.93,209.17 261.59,209.73 261.25,210.27 C260.90,210.82 260.53,211.35 260.16,211.88 C259.79,212.41 259.40,212.92 259.00,213.43 C258.60,213.94 258.18,214.44 257.76,214.92 C257.34,215.41 256.90,215.89 256.46,216.36 C256.01,216.83 255.55,217.29 255.08,217.74 C254.61,218.20 254.13,218.64 253.65,219.07 C253.16,219.50 252.66,219.93 252.15,220.34 C251.64,220.75 251.12,221.16 250.59,221.55 C250.07,221.95 249.53,222.33 248.99,222.71 C248.44,223.09 247.89,223.45 247.33,223.81 C246.77,224.17 246.20,224.52 245.62,224.85 C245.05,225.19 244.46,225.52 243.87,225.84 C243.28,226.16 242.68,226.47 242.08,226.77 C241.48,227.08 240.87,227.37 240.25,227.65 C239.64,227.93 239.02,228.21 238.39,228.47 C237.77,228.73 237.13,228.99 236.50,229.23 C235.86,229.48 235.22,229.71 234.58,229.94 C233.93,230.17 233.29,230.38 232.63,230.59 C231.98,230.80 231.33,231.00 230.67,231.18 C230.01,231.37 229.35,231.55 228.68,231.72 C228.02,231.89 227.35,232.05 226.69,232.20 C226.02,232.36 225.35,232.50 224.68,232.63 C224.01,232.76 223.33,232.88 222.66,233.00 C221.99,233.11 221.31,233.22 220.64,233.31 C219.96,233.41 219.29,233.49 218.61,233.57 C217.94,233.64 217.27,233.71 216.59,233.77 C215.92,233.83 215.25,233.87 214.57,233.91 C213.90,233.95 213.23,233.98 212.56,234.01 C211.89,234.03 211.22,234.05 210.55,234.06 C209.88,234.07 209.21,234.07 208.54,234.06 C207.87,234.06 207.21,234.05 206.54,234.04 C205.87,234.02 205.20,234.00 204.54,233.97 C203.87,233.95 203.20,233.92 202.54,233.88 C201.87,233.85 201.20,233.81 200.54,233.77 C199.87,233.73 199.21,233.69 198.54,233.64 C197.88,233.59 197.21,233.54 196.55,233.49 C195.88,233.44 195.22,233.39 194.56,233.34 C193.89,233.29 193.23,233.23 192.56,233.18 C191.90,233.13 191.23,233.07 190.57,233.02 C189.91,232.97 189.24,232.91 188.58,232.86 C187.91,232.81 187.25,232.76 186.58,232.72 C185.92,232.67 185.26,232.62 184.59,232.58 C183.93,232.54 183.26,232.50 182.60,232.47 C181.93,232.43 181.27,232.40 180.60,232.37 C179.94,232.35 179.27,232.32 178.60,232.31 C177.94,232.29 177.27,232.27 176.60,232.26 C175.94,232.25 175.27,232.25 174.60,232.24 C173.94,232.24 173.27,232.24 172.60,232.24 C171.93,232.24 171.26,232.24 170.59,232.25 C169.92,232.25 169.25,232.26 168.58,232.27 C167.91,232.28 167.24,232.29 166.57,232.30 C165.90,232.30 165.22,232.31 164.55,232.32 C163.88,232.33 163.20,232.34 162.53,232.35 C161.85,232.36 161.18,232.37 160.50,232.37 C159.83,232.38 159.15,232.39 158.47,232.39 C157.79,232.39 157.11,232.39 156.43,232.39 C155.75,232.39 155.07,232.38 154.39,232.37 C153.71,232.37 153.02,232.35 152.34,232.34 C151.65,232.32 150.97,232.30 150.28,232.28 C149.60,232.25 148.91,232.23 148.22,232.19 C147.53,232.16 146.84,232.12 146.15,232.07 C145.47,232.03 144.78,231.98 144.09,231.92 C143.40,231.86 142.71,231.79 142.03,231.72 C141.34,231.64 140.66,231.56 139.98,231.47 C139.30,231.38 138.62,231.28 137.94,231.17 C137.26,231.07 136.59,230.95 135.92,230.82 C135.25,230.69 134.58,230.55 133.92,230.40 C133.26,230.25 132.60,230.09 131.95,229.92 C131.29,229.75 130.64,229.57 130.00,229.37 C129.36,229.17 128.72,228.96 128.09,228.74 C127.46,228.51 126.84,228.28 126.22,228.03 C125.60,227.78 124.99,227.51 124.39,227.23 C123.78,226.96 123.19,226.67 122.60,226.36 C122.01,226.06 121.42,225.74 120.85,225.42 C120.28,225.09 119.71,224.75 119.15,224.40 C118.59,224.04 118.03,223.68 117.49,223.30 C116.95,222.93 116.41,222.54 115.88,222.15 C115.35,221.75 114.83,221.34 114.32,220.92 C113.81,220.50 113.30,220.07 112.81,219.63 C112.31,219.20 111.83,218.75 111.35,218.29 C110.87,217.83 110.40,217.36 109.94,216.89 C109.48,216.41 109.03,215.92 108.59,215.43 C108.14,214.94 107.71,214.43 107.29,213.92 C106.86,213.41 106.45,212.89 106.05,212.36 C105.64,211.84 105.25,211.30 104.86,210.76 C104.48,210.22 104.10,209.67 103.74,209.11 C103.37,208.56 103.02,208.00 102.67,207.43 C102.33,206.86 101.99,206.28 101.67,205.70 C101.35,205.12 101.03,204.54 100.73,203.94 C100.43,203.35 100.14,202.75 99.86,202.15 C99.58,201.55 99.31,200.94 99.05,200.33 C98.79,199.72 98.54,199.10 98.31,198.48 C98.07,197.86 97.85,197.24 97.64,196.61 C97.42,195.98 97.22,195.35 97.03,194.72 C96.84,194.08 96.67,193.45 96.50,192.81 C96.34,192.17 96.18,191.52 96.04,190.88 C95.90,190.23 95.77,189.58 95.65,188.93 C95.54,188.29 95.43,187.63 95.34,186.98 C95.24,186.33 95.16,185.67 95.09,185.01 C95.01,184.35 94.95,183.69 94.90,183.03 C94.85,182.37 94.81,181.71 94.79,181.05 C94.76,180.38 94.74,179.72 94.73,179.05 C94.73,178.39 94.73,177.72 94.74,177.05 C94.76,176.38 94.78,175.72 94.81,175.05 C94.85,174.38 94.89,173.71 94.94,173.04 C95.00,172.37 95.06,171.70 95.13,171.03 C95.21,170.36 95.29,169.69 95.38,169.02 C95.47,168.35 95.57,167.68 95.68,167.01 C95.79,166.34 95.91,165.67 96.04,165.01 C96.17,164.34 96.31,163.67 96.45,163.00 C96.60,162.34 96.75,161.67 96.91,161.01 C97.07,160.34 97.25,159.68 97.42,159.02 C97.60,158.35 97.79,157.69 97.98,157.03 C98.18,156.37 98.38,155.72 98.59,155.06 C98.80,154.40 99.02,153.75 99.25,153.10 C99.47,152.45 99.71,151.80 99.95,151.15 C100.19,150.50 100.43,149.86 100.69,149.22 C100.94,148.57 101.20,147.93 101.47,147.30 C101.74,146.66 102.02,146.02 102.30,145.39 C102.58,144.76 102.87,144.13 103.16,143.51 C103.46,142.88 103.76,142.26 104.06,141.64 C104.37,141.02 104.68,140.41 105.00,139.80 C105.32,139.19 105.64,138.58 105.97,137.98 C106.30,137.37 106.64,136.77 106.98,136.18 C107.32,135.58 107.67,134.99 108.02,134.40 C108.37,133.82 108.73,133.24 109.09,132.66 C109.45,132.08 109.82,131.51 110.19,130.94 C110.56,130.37 110.93,129.81 111.31,129.25 C111.69,128.69 112.08,128.14 112.47,127.59 C112.86,127.05 113.25,126.51 113.66,125.97 C114.06,125.44 114.46,124.91 114.87,124.39 C115.29,123.87 115.70,123.35 116.13,122.84 C116.55,122.34 116.98,121.84 117.42,121.34 C117.86,120.85 118.30,120.37 118.75,119.89 C119.20,119.41 119.66,118.95 120.13,118.49 C120.59,118.03 121.07,117.58 121.55,117.14 C122.03,116.70 122.52,116.26 123.02,115.84 C123.51,115.42 124.02,115.01 124.54,114.61 C125.05,114.21 125.57,113.82 126.11,113.44 C126.64,113.06 127.18,112.69 127.73,112.33 C128.29,111.97 128.85,111.62 129.42,111.29 C129.99,110.96 130.57,110.63 131.16,110.32 C131.74,110.01 132.34,109.72 132.94,109.43 C133.55,109.15 134.16,108.88 134.77,108.62 C135.39,108.36 136.01,108.11 136.64,107.88 C137.27,107.65 137.90,107.44 138.54,107.23 C139.18,107.03 139.82,106.84 140.47,106.67 C141.12,106.50 141.77,106.34 142.42,106.20 C143.08,106.06 143.73,105.93 144.39,105.82 C145.05,105.71 145.71,105.62 146.37,105.54 C147.04,105.46 147.70,105.40 148.36,105.36 C149.03,105.31 149.69,105.28 150.36,105.27 Z" fill="rgb(229,226,172)" fill-opacity="0.3"/>
<path d="M240.72,415.74 C241.42,415.65 242.13,415.57 242.83,415.50 C243.54,415.43 244.24,415.37 244.94,415.30 C245.64,415.24 246.34,415.19 247.05,415.14 C247.75,415.09 248.45,415.05 249.15,415.01 C249.85,414.97 250.55,414.94 251.24,414.91 C251.94,414.88 252.64,414.86 253.34,414.84 C254.04,414.82 254.74,414.81 255.43,414.80 C256.13,414.78 256.83,414.78 257.52,414.77 C258.22,414.77 258.92,414.77 259.61,414.77 C260.31,414.78 261.00,414.78 261.70,414.79 C262.39,414.80 263.09,414.81 263.79,414.83 C264.48,414.84 265.18,414.86 265.87,414.88 C266.57,414.90 267.26,414.92 267.96,414.94 C268.65,414.97 269.35,414.99 270.04,415.02 C270.73,415.04 271.43,415.07 272.12,415.10 C272.82,415.13 273.52,415.16 274.21,415.19 C274.91,415.22 275.60,415.25 276.30,415.28 C276.99,415.31 277.69,415.34 278.38,415.37 C279.08,415.41 279.78,415.44 280.47,415.47 C281.17,415.50 281.87,415.53 282.56,415.56 C283.26,415.59 283.96,415.62 284.66,415.64 C285.36,415.67 286.06,415.70 286.75,415.72 C287.45,415.74 288.15,415.77 288.85,415.79 C289.55,415.81 290.25,415.83 290.96,415.84 C291.66,415.86 292.36,415.88 293.06,415.89 C293.76,415.90 294.47,415.91 295.17,415.91 C295.88,415.92 296.58,415.92 297.29,415.92 C297.99,415.92 298.70,415.92 299.40,415.91 C300.11,415.90 300.82,415.89 301.53,415.87 C302.24,415.86 302.95,415.84 303.66,415.81 C304.37,415.79 305.08,415.76 305.79,415.72 C306.50,415.69 307.22,415.65 307.93,415.61 C308.65,415.57 309.36,415.52 310.07,415.48 C310.79,415.43 311.50,415.38 312.22,415.34 C312.93,415.29 313.65,415.24 314.36,415.19 C315.08,415.15 315.79,415.10 316.51,415.06 C317.22,415.01 317.93,414.97 318.64,414.93 C319.35,414.90 320.07,414.86 320.78,414.83 C321.48,414.80 322.19,414.78 322.90,414.76 C323.61,414.75 324.31,414.73 325.01,414.73 C325.72,414.73 326.42,414.73 327.12,414.75 C327.82,414.76 328.51,414.78 329.21,414.82 C329.90,414.85 330.59,414.89 331.28,414.95 C331.97,415.00 332.66,415.07 333.34,415.15 C334.02,415.23 334.70,415.32 335.38,415.43 C336.05,415.54 336.73,415.66 337.39,415.79 C338.06,415.92 338.73,416.07 339.39,416.24 C340.05,416.40 340.70,416.58 341.35,416.77 C342.00,416.96 342.65,417.17 343.29,417.39 C343.93,417.61 344.56,417.85 345.19,418.10 C345.82,418.35 346.44,418.62 347.06,418.90 C347.67,419.19 348.28,419.49 348.88,419.80 C349.49,420.12 350.08,420.45 350.67,420.80 C351.26,421.15 351.84,421.52 352.41,421.90 C352.99,422.28 353.55,422.68 354.11,423.09 C354.67,423.50 355.22,423.93 355.75,424.37 C356.30,424.81 356.83,425.26 357.35,425.73 C357.87,426.20 358.38,426.68 358.89,427.17 C359.39,427.67 359.88,428.18 360.36,428.69 C360.85,429.21 361.32,429.74 361.78,430.28 C362.25,430.83 362.70,431.38 363.14,431.94 C363.58,432.51 364.01,433.08 364.43,433.66 C364.85,434.24 365.25,434.84 365.65,435.44 C366.04,436.04 366.42,436.65 366.79,437.27 C367.16,437.89 367.52,438.51 367.87,439.15 C368.21,439.78 368.54,440.42 368.86,441.07 C369.18,441.71 369.48,442.37 369.78,443.03 C370.07,443.69 370.34,444.35 370.61,445.02 C370.87,445.69 371.12,446.37 371.35,447.05 C371.59,447.73 371.81,448.41 372.01,449.10 C372.21,449.79 372.40,450.48 372.58,451.17 C372.75,451.86 372.91,452.56 373.05,453.26 C373.19,453.96 373.31,454.66 373.42,455.36 C373.53,456.06 373.62,456.76 373.70,457.47 C373.77,458.17 373.83,458.87 373.87,459.58 C373.91,460.28 373.93,460.98 373.94,461.68 C373.94,462.38 373.93,463.08 373.90,463.78 C373.87,464.48 373.83,465.17 373.76,465.87 C373.70,466.56 373.62,467.24 373.52,467.93 C373.42,468.61 373.30,469.29 373.17,469.97 C373.04,470.64 372.89,471.31 372.72,471.97 C372.55,472.63 372.36,473.29 372.16,473.94 C371.95,474.59 371.73,475.23 371.49,475.86 C371.25,476.50 371.00,477.12 370.72,477.74 C370.45,478.35 370.16,478.96 369.84,479.56 C369.54,480.16 369.21,480.74 368.86,481.32 C368.52,481.89 368.15,482.46 367.77,483.01 C367.39,483.56 366.99,484.10 366.58,484.63 C366.16,485.16 365.73,485.67 365.28,486.18 C364.83,486.68 364.37,487.18 363.89,487.66 C363.41,488.15 362.92,488.62 362.42,489.09 C361.91,489.56 361.40,490.01 360.87,490.46 C360.34,490.91 359.81,491.36 359.26,491.79 C358.71,492.23 358.16,492.66 357.59,493.08 C357.03,493.51 356.46,493.92 355.88,494.34 C355.30,494.75 354.72,495.16 354.13,495.56 C353.54,495.97 352.94,496.37 352.35,496.77 C351.75,497.17 351.15,497.56 350.55,497.96 C349.94,498.35 349.34,498.75 348.73,499.14 C348.13,499.53 347.52,499.93 346.92,500.32 C346.31,500.71 345.71,501.10 345.11,501.50 C344.51,501.89 343.91,502.29 343.31,502.69 C342.72,503.09 342.13,503.49 341.54,503.89 C340.95,504.29 340.36,504.69 339.77,505.09 C339.19,505.50 338.60,505.90 338.02,506.31 C337.44,506.71 336.86,507.12 336.28,507.52 C335.71,507.93 335.13,508.34 334.56,508.75 C333.98,509.15 333.41,509.56 332.84,509.97 C332.27,510.38 331.70,510.79 331.13,511.20 C330.56,511.61 329.99,512.01 329.42,512.42 C328.86,512.83 328.29,513.24 327.73,513.65 C327.16,514.06 326.60,514.47 326.03,514.87 C325.47,515.28 324.91,515.69 324.34,516.10 C323.78,516.50 323.22,516.91 322.66,517.31 C322.09,517.72 321.53,518.12 320.97,518.52 C320.41,518.93 319.84,519.33 319.28,519.73 C318.72,520.13 318.15,520.53 317.59,520.93 C317.03,521.32 316.46,521.72 315.90,522.11 C315.33,522.51 314.77,522.90 314.20,523.29 C313.63,523.68 313.06,524.07 312.49,524.46 C311.93,524.84 311.36,525.23 310.78,525.61 C310.21,525.99 309.64,526.37 309.07,526.75 C308.49,527.12 307.92,527.50 307.34,527.87 C306.76,528.24 306.18,528.61 305.60,528.98 C305.02,529.34 304.43,529.71 303.85,530.07 C303.26,530.43 302.67,530.79 302.08,531.14 C301.49,531.49 300.90,531.84 300.30,532.19 C299.71,532.54 299.11,532.88 298.51,533.22 C297.91,533.56 297.30,533.90 296.70,534.23 C296.09,534.56 295.48,534.89 294.87,535.21 C294.25,535.54 293.64,535.86 293.02,536.17 C292.40,536.49 291.77,536.80 291.15,537.10 C290.52,537.41 289.89,537.71 289.25,538.01 C288.62,538.31 287.98,538.60 287.34,538.89 C286.69,539.17 286.04,539.46 285.39,539.73 C284.74,540.01 284.09,540.28 283.43,540.55 C282.77,540.82 282.11,541.08 281.44,541.33 C280.77,541.59 280.10,541.84 279.43,542.08 C278.76,542.32 278.08,542.56 277.40,542.79 C276.72,543.02 276.04,543.24 275.36,543.46 C274.67,543.68 273.99,543.89 273.30,544.09 C272.61,544.29 271.92,544.49 271.22,544.68 C270.53,544.86 269.84,545.05 269.14,545.22 C268.44,545.39 267.74,545.55 267.04,545.71 C266.35,545.87 265.64,546.01 264.94,546.15 C264.24,546.29 263.54,546.42 262.83,546.54 C262.13,546.67 261.43,546.78 260.72,546.88 C260.02,546.99 259.32,547.08 258.61,547.17 C257.91,547.25 257.20,547.32 256.50,547.39 C255.79,547.45 255.09,547.51 254.39,547.55 C253.68,547.60 252.98,547.63 252.28,547.66 C251.58,547.68 250.88,547.69 250.18,547.70 C249.48,547.70 248.78,547.69 248.08,547.67 C247.39,547.65 246.69,547.62 246.00,547.57 C245.31,547.53 244.61,547.47 243.92,547.41 C243.24,547.34 242.55,547.26 241.86,547.17 C241.18,547.08 240.50,546.98 239.82,546.86 C239.14,546.74 238.47,546.61 237.79,546.47 C237.12,546.33 236.45,546.17 235.78,546.01 C235.12,545.84 234.45,545.66 233.80,545.46 C233.14,545.26 232.48,545.05 231.83,544.83 C231.18,544.61 230.53,544.37 229.89,544.12 C229.25,543.87 228.61,543.60 227.98,543.32 C227.34,543.04 226.71,542.74 226.09,542.44 C225.47,542.13 224.85,541.81 224.24,541.47 C223.63,541.14 223.02,540.79 222.43,540.43 C221.83,540.06 221.24,539.69 220.66,539.30 C220.07,538.92 219.50,538.52 218.93,538.11 C218.36,537.70 217.80,537.28 217.25,536.84 C216.70,536.41 216.16,535.97 215.63,535.51 C215.09,535.06 214.57,534.59 214.06,534.11 C213.54,533.64 213.04,533.15 212.55,532.65 C212.06,532.15 211.57,531.65 211.10,531.13 C210.63,530.61 210.18,530.09 209.73,529.55 C209.28,529.02 208.85,528.47 208.42,527.92 C208.00,527.37 207.59,526.81 207.20,526.24 C206.80,525.67 206.42,525.09 206.05,524.51 C205.68,523.92 205.32,523.33 204.98,522.73 C204.64,522.13 204.31,521.52 204.00,520.91 C203.69,520.30 203.39,519.68 203.11,519.05 C202.83,518.43 202.57,517.79 202.32,517.15 C202.07,516.52 201.84,515.87 201.63,515.22 C201.41,514.57 201.22,513.92 201.03,513.26 C200.85,512.60 200.69,511.94 200.54,511.27 C200.39,510.60 200.26,509.93 200.14,509.25 C200.02,508.57 199.92,507.89 199.82,507.21 C199.73,506.52 199.65,505.83 199.58,505.14 C199.51,504.45 199.46,503.76 199.41,503.06 C199.36,502.36 199.33,501.66 199.30,500.96 C199.27,500.25 199.26,499.55 199.24,498.84 C199.23,498.13 199.23,497.43 199.23,496.72 C199.24,496.00 199.25,495.29 199.26,494.58 C199.28,493.86 199.30,493.15 199.32,492.43 C199.35,491.72 199.38,491.00 199.41,490.28 C199.44,489.57 199.47,488.85 199.51,488.13 C199.54,487.41 199.58,486.70 199.61,485.98 C199.65,485.26 199.69,484.54 199.72,483.83 C199.76,483.11 199.79,482.40 199.82,481.68 C199.85,480.97 199.88,480.26 199.91,479.54 C199.94,478.83 199.96,478.12 199.98,477.41 C200.00,476.71 200.02,476.00 200.03,475.29 C200.05,474.59 200.07,473.88 200.08,473.17 C200.10,472.47 200.11,471.77 200.13,471.06 C200.15,470.36 200.16,469.66 200.18,468.96 C200.20,468.25 200.22,467.55 200.25,466.85 C200.27,466.15 200.30,465.45 200.33,464.75 C200.36,464.05 200.39,463.34 200.43,462.64 C200.47,461.94 200.51,461.24 200.56,460.54 C200.61,459.84 200.67,459.14 200.73,458.43 C200.79,457.73 200.86,457.03 200.94,456.32 C201.02,455.62 201.10,454.92 201.19,454.22 C201.29,453.51 201.39,452.81 201.50,452.11 C201.61,451.41 201.73,450.72 201.86,450.02 C201.99,449.33 202.13,448.63 202.29,447.95 C202.44,447.26 202.60,446.57 202.78,445.89 C202.96,445.21 203.15,444.54 203.35,443.87 C203.55,443.20 203.76,442.53 203.99,441.87 C204.22,441.21 204.46,440.56 204.72,439.91 C204.98,439.27 205.25,438.63 205.54,438.00 C205.83,437.37 206.13,436.75 206.45,436.13 C206.77,435.52 207.11,434.92 207.46,434.32 C207.82,433.73 208.19,433.14 208.57,432.57 C208.95,432.00 209.36,431.43 209.77,430.88 C210.19,430.33 210.62,429.80 211.06,429.27 C211.51,428.75 211.97,428.23 212.44,427.73 C212.92,427.24 213.40,426.75 213.91,426.28 C214.41,425.81 214.92,425.36 215.45,424.92 C215.98,424.48 216.52,424.06 217.07,423.65 C217.63,423.24 218.19,422.85 218.77,422.48 C219.35,422.11 219.94,421.76 220.54,421.43 C221.14,421.09 221.75,420.78 222.37,420.48 C222.99,420.18 223.63,419.90 224.27,419.63 C224.91,419.37 225.56,419.12 226.21,418.88 C226.87,418.65 227.54,418.43 228.21,418.22 C228.88,418.02 229.56,417.83 230.24,417.65 C230.92,417.47 231.61,417.30 232.30,417.14 C232.99,416.99 233.69,416.84 234.39,416.71 C235.09,416.57 235.79,416.45 236.49,416.33 C237.19,416.22 237.90,416.11 238.60,416.01 C239.31,415.91 240.01,415.82 240.72,415.74 Z" fill="rgb(200,225,160)" fill-opacity="0.3"/>
<path d="M374.25,508.97 C374.32,507.33 374.49,505.67 374.74,504.05 C375.00,502.41 375.36,500.77 375.80,499.17 C376.24,497.57 376.77,495.98 377.39,494.43 C378.00,492.88 378.70,491.36 379.48,489.89 C380.25,488.43 381.11,487.01 382.04,485.65 C382.97,484.30 383.97,483.00 385.04,481.78 C386.11,480.56 387.26,479.42 388.45,478.33 C389.64,477.24 390.90,476.22 392.19,475.24 C393.48,474.26 394.83,473.34 396.19,472.44 C397.55,471.54 398.96,470.69 400.37,469.84 C401.78,469.00 403.22,468.18 404.65,467.37 C406.09,466.55 407.54,465.75 408.97,464.93 C410.40,464.11 411.83,463.29 413.25,462.46 C414.67,461.63 416.07,460.79 417.47,459.94 C418.87,459.09 420.26,458.23 421.64,457.37 C423.03,456.50 424.40,455.63 425.78,454.76 C427.15,453.88 428.51,453.00 429.88,452.11 C431.24,451.23 432.59,450.34 433.95,449.45 C435.30,448.56 436.66,447.66 438.01,446.77 C439.36,445.88 440.71,444.98 442.06,444.08 C443.41,443.19 444.76,442.29 446.11,441.39 C447.46,440.50 448.81,439.60 450.17,438.71 C451.52,437.82 452.88,436.93 454.24,436.05 C455.61,435.17 456.97,434.28 458.35,433.41 C459.72,432.53 461.10,431.66 462.48,430.80 C463.87,429.94 465.26,429.08 466.66,428.23 C468.06,427.38 469.47,426.54 470.88,425.71 C472.30,424.87 473.73,424.05 475.17,423.24 C476.61,422.42 478.06,421.62 479.52,420.83 C480.99,420.04 482.46,419.26 483.95,418.50 C485.44,417.73 486.94,416.98 488.46,416.24 C489.98,415.50 491.52,414.78 493.05,414.06 C494.59,413.34 496.15,412.64 497.69,411.92 C499.23,411.21 500.77,410.49 502.28,409.75 C503.79,409.00 505.29,408.25 506.75,407.45 C508.20,406.65 509.64,405.84 511.01,404.95 C512.38,404.08 513.72,403.17 514.99,402.19 C516.25,401.21 517.46,400.17 518.59,399.07 C519.73,397.96 520.79,396.79 521.80,395.57 C522.82,394.35 523.77,393.07 524.69,391.76 C525.61,390.45 526.47,389.09 527.32,387.71 C528.17,386.32 528.97,384.90 529.77,383.47 C530.57,382.04 531.34,380.58 532.12,379.12 C532.90,377.67 533.65,376.19 534.43,374.73 C535.22,373.28 535.99,371.82 536.81,370.39 C537.62,368.97 538.45,367.55 539.33,366.18 C540.20,364.83 541.11,363.48 542.08,362.21 C543.05,360.95 544.07,359.71 545.16,358.57 C546.26,357.43 547.42,356.34 548.66,355.35 C549.91,354.35 551.25,353.46 552.62,352.61 C554.01,351.75 555.47,350.99 556.93,350.24 C558.41,349.48 559.93,348.79 561.43,348.08 C562.94,347.37 564.46,346.68 565.97,345.99 C567.48,345.29 568.99,344.60 570.49,343.91 C571.99,343.22 573.50,342.53 575.00,341.85 C576.50,341.17 578.00,340.49 579.50,339.82 C581.00,339.15 582.50,338.48 584.00,337.82 C585.51,337.17 587.01,336.52 588.52,335.87 C590.03,335.23 591.54,334.60 593.05,333.97 C594.57,333.34 596.08,332.72 597.60,332.10 C599.12,331.48 600.64,330.87 602.16,330.26 C603.68,329.66 605.20,329.05 606.72,328.45 C608.24,327.85 609.76,327.25 611.29,326.65 C612.81,326.05 614.33,325.45 615.85,324.85 C617.37,324.24 618.89,323.64 620.41,323.04 C621.93,322.43 623.45,321.83 624.97,321.21 C626.48,320.60 628.00,319.99 629.51,319.36 C631.02,318.74 632.53,318.12 634.04,317.48 C635.55,316.85 637.05,316.21 638.56,315.57 C640.06,314.93 641.56,314.28 643.06,313.63 C644.56,312.98 646.06,312.33 647.55,311.67 C649.05,311.01 650.54,310.34 652.04,309.68 C653.53,309.01 655.02,308.34 656.51,307.67 C658.00,307.00 659.49,306.32 660.98,305.65 C662.47,304.97 663.95,304.29 665.44,303.61 C666.93,302.93 668.41,302.24 669.90,301.56 C671.38,300.87 672.87,300.19 674.35,299.50 C675.84,298.81 677.32,298.12 678.80,297.43 C680.29,296.74 681.77,296.05 683.25,295.36 C684.74,294.67 686.22,293.98 687.70,293.29 C689.19,292.60 690.67,291.91 692.16,291.22 C693.64,290.53 695.13,289.84 696.61,289.15 C698.10,288.46 699.58,287.77 701.07,287.09 C702.56,286.40 704.04,285.72 705.53,285.04 C707.02,284.36 708.51,283.67 710.00,283.00 C711.49,282.32 712.98,281.64 714.48,280.97 C715.97,280.30 717.47,279.63 718.96,278.96 C720.46,278.30 721.96,277.63 723.46,276.98 C724.96,276.32 726.46,275.66 727.96,275.01 C729.47,274.36 730.97,273.71 732.48,273.07 C733.99,272.42 735.50,271.79 737.01,271.15 C738.52,270.52 740.04,269.89 741.56,269.27 C743.07,268.65 744.59,268.03 746.12,267.42 C747.64,266.81 749.17,266.20 750.69,265.60 C752.22,265.01 753.76,264.41 755.29,263.83 C756.83,263.24 758.36,262.66 759.91,262.09 C761.45,261.52 762.99,260.95 764.54,260.40 C766.09,259.84 767.64,259.29 769.20,258.75 C770.75,258.22 772.31,257.69 773.88,257.21 C775.43,256.73 777.00,256.26 778.57,255.86 C780.12,255.47 781.69,255.11 783.26,254.83 C784.82,254.56 786.39,254.34 787.95,254.22 C789.51,254.11 791.08,254.06 792.64,254.14 C794.20,254.21 795.76,254.38 797.30,254.69 C798.87,255.00 800.43,255.43 801.95,255.98 C803.51,256.54 805.04,257.25 806.54,258.03 C808.06,258.82 809.54,259.74 810.98,260.69 C812.43,261.66 813.84,262.71 815.19,263.80 C816.53,264.88 817.83,266.03 819.08,267.21 C820.31,268.38 821.49,269.60 822.61,270.86 C823.72,272.11 824.78,273.41 825.78,274.74 C826.77,276.06 827.70,277.42 828.57,278.82 C829.43,280.21 830.23,281.63 830.96,283.09 C831.69,284.53 832.35,286.01 832.94,287.52 C833.53,289.02 834.05,290.55 834.49,292.09 C834.94,293.64 835.31,295.21 835.60,296.79 C835.90,298.38 836.12,299.99 836.26,301.60 C836.40,303.22 836.46,304.85 836.44,306.48 C836.42,308.13 836.32,309.78 836.14,311.42 C835.96,313.07 835.70,314.72 835.36,316.34 C835.02,317.96 834.59,319.58 834.09,321.15 C833.59,322.72 833.00,324.28 832.34,325.79 C831.67,327.28 830.93,328.75 830.10,330.16 C829.28,331.55 828.37,332.91 827.38,334.19 C826.40,335.46 825.32,336.66 824.18,337.80 C823.04,338.93 821.81,339.98 820.56,340.99 C819.30,342.01 817.97,342.95 816.64,343.89 C815.31,344.83 813.94,345.73 812.57,346.63 C811.21,347.53 809.83,348.42 808.45,349.30 C807.06,350.18 805.67,351.05 804.28,351.92 C802.88,352.78 801.48,353.63 800.07,354.48 C798.66,355.33 797.25,356.17 795.83,357.00 C794.41,357.83 792.99,358.66 791.56,359.48 C790.13,360.31 788.70,361.12 787.27,361.93 C785.84,362.75 784.40,363.56 782.96,364.36 C781.52,365.17 780.08,365.97 778.63,366.77 C777.19,367.57 775.75,368.37 774.30,369.17 C772.86,369.96 771.41,370.76 769.96,371.55 C768.52,372.35 767.07,373.15 765.63,373.94 C764.18,374.74 762.74,375.54 761.29,376.34 C759.85,377.14 758.41,377.94 756.97,378.74 C755.53,379.55 754.10,380.36 752.66,381.17 C751.23,381.98 749.80,382.80 748.38,383.62 C746.95,384.44 745.53,385.27 744.11,386.10 C742.70,386.93 741.29,387.77 739.88,388.62 C738.48,389.46 737.08,390.31 735.68,391.18 C734.29,392.04 732.90,392.91 731.52,393.78 C730.14,394.66 728.77,395.55 727.41,396.45 C726.04,397.35 724.69,398.25 723.34,399.17 C721.99,400.09 720.65,401.02 719.32,401.97 C718.00,402.91 716.68,403.87 715.37,404.83 C714.06,405.80 712.76,406.79 711.48,407.78 C710.19,408.78 708.91,409.79 707.65,410.82 C706.39,411.84 705.14,412.88 703.90,413.94 C702.66,415.00 701.43,416.07 700.22,417.16 C699.01,418.26 697.81,419.37 696.63,420.49 C695.45,421.62 694.28,422.77 693.14,423.94 C692.00,425.10 690.88,426.29 689.80,427.51 C688.72,428.72 687.66,429.96 686.66,431.22 C685.65,432.49 684.68,433.78 683.77,435.10 C682.87,436.43 682.00,437.78 681.20,439.16 C680.41,440.55 679.66,441.97 679.00,443.42 C678.33,444.88 677.73,446.37 677.21,447.89 C676.69,449.42 676.26,451.00 675.88,452.58 C675.49,454.18 675.20,455.81 674.91,457.45 C674.61,459.09 674.38,460.75 674.13,462.41 C673.87,464.07 673.65,465.73 673.38,467.39 C673.11,469.03 672.84,470.68 672.49,472.30 C672.14,473.91 671.77,475.51 671.29,477.07 C670.82,478.62 670.27,480.16 669.62,481.63 C668.97,483.10 668.22,484.53 667.39,485.91 C666.55,487.30 665.62,488.63 664.64,489.92 C663.64,491.22 662.56,492.46 661.44,493.66 C660.31,494.87 659.11,496.02 657.87,497.14 C656.62,498.26 655.32,499.33 653.99,500.36 C652.66,501.39 651.28,502.38 649.89,503.32 C648.49,504.27 647.06,505.18 645.61,506.04 C644.18,506.91 642.72,507.74 641.24,508.52 C639.78,509.31 638.30,510.05 636.81,510.75 C635.32,511.44 633.81,512.10 632.30,512.71 C630.79,513.31 629.26,513.87 627.72,514.37 C626.19,514.88 624.64,515.33 623.08,515.73 C621.52,516.13 619.95,516.48 618.37,516.77 C616.79,517.05 615.20,517.29 613.60,517.45 C612.00,517.62 610.39,517.73 608.77,517.78 C607.15,517.83 605.52,517.81 603.89,517.74 C602.25,517.67 600.61,517.54 598.98,517.37 C597.33,517.20 595.69,516.97 594.05,516.71 C592.41,516.44 590.77,516.13 589.14,515.80 C587.51,515.47 585.88,515.09 584.25,514.73 C582.62,514.36 580.99,513.97 579.37,513.60 C577.75,513.23 576.13,512.85 574.51,512.51 C572.89,512.17 571.28,511.84 569.66,511.56 C568.05,511.28 566.44,511.03 564.83,510.84 C563.23,510.66 561.62,510.51 560.01,510.46 C558.41,510.40 556.81,510.41 555.21,510.49 C553.62,510.57 552.02,510.73 550.43,510.94 C548.84,511.16 547.25,511.44 545.67,511.76 C544.08,512.09 542.50,512.48 540.92,512.90 C539.34,513.32 537.76,513.79 536.20,514.28 C534.62,514.78 533.06,515.31 531.49,515.87 C529.93,516.42 528.37,517.00 526.82,517.59 C525.26,518.18 523.71,518.80 522.16,519.41 C520.62,520.02 519.08,520.64 517.54,521.25 C516.00,521.87 514.47,522.48 512.94,523.10 C511.41,523.71 509.89,524.33 508.36,524.95 C506.84,525.56 505.32,526.17 503.81,526.79 C502.29,527.40 500.78,528.01 499.26,528.63 C497.75,529.24 496.24,529.85 494.73,530.47 C493.23,531.08 491.72,531.69 490.21,532.30 C488.71,532.91 487.20,533.52 485.70,534.13 C484.19,534.74 482.68,535.35 481.18,535.96 C479.67,536.57 478.17,537.18 476.66,537.79 C475.15,538.40 473.64,539.00 472.13,539.61 C470.62,540.22 469.11,540.82 467.60,541.43 C466.08,542.03 464.57,542.64 463.05,543.24 C461.53,543.85 460.00,544.45 458.48,545.05 C456.95,545.66 455.42,546.26 453.89,546.86 C452.35,547.46 450.82,548.06 449.28,548.66 C447.73,549.26 446.18,549.86 444.63,550.46 C443.08,551.05 441.52,551.65 439.96,552.21 C438.40,552.77 436.83,553.32 435.25,553.81 C433.69,554.29 432.11,554.75 430.52,555.13 C428.94,555.50 427.35,555.83 425.75,556.05 C424.16,556.27 422.56,556.42 420.96,556.45 C419.36,556.49 417.74,556.41 416.14,556.24 C414.54,556.07 412.93,555.79 411.35,555.42 C409.76,555.05 408.18,554.58 406.64,554.04 C405.08,553.49 403.55,552.85 402.06,552.14 C400.56,551.43 399.09,550.63 397.66,549.77 C396.24,548.91 394.85,547.97 393.52,546.97 C392.18,545.97 390.89,544.90 389.66,543.78 C388.44,542.66 387.26,541.48 386.14,540.25 C385.04,539.02 383.98,537.73 383.00,536.40 C382.02,535.08 381.11,533.70 380.27,532.29 C379.44,530.88 378.68,529.42 378.01,527.94 C377.34,526.45 376.74,524.93 376.24,523.39 C375.74,521.85 375.33,520.27 375.01,518.68 C374.69,517.10 374.47,515.48 374.34,513.86 C374.22,512.24 374.18,510.60 374.25,508.97 Z" fill="rgb(230,120,100)" fill-opacity="0.25"/>
<path d="M483.73,224.99 C483.71,223.12 483.90,221.20 484.25,219.34 C484.60,217.48 485.15,215.60 485.85,213.84 C486.55,212.09 487.42,210.37 488.44,208.82 C489.45,207.30 490.62,205.85 491.92,204.61 C493.19,203.39 494.64,202.32 496.14,201.40 C497.65,200.48 499.29,199.74 500.94,199.10 C502.61,198.47 504.37,197.99 506.13,197.60 C507.89,197.21 509.71,196.95 511.51,196.77 C513.31,196.58 515.14,196.51 516.95,196.50 C518.78,196.48 520.61,196.56 522.44,196.68 C524.28,196.79 526.11,196.98 527.95,197.19 C529.79,197.40 531.64,197.66 533.48,197.92 C535.32,198.18 537.16,198.48 539.01,198.76 C540.85,199.04 542.69,199.32 544.52,199.60 C546.36,199.87 548.19,200.14 550.03,200.41 C551.86,200.67 553.69,200.93 555.52,201.19 C557.35,201.44 559.18,201.70 561.00,201.94 C562.83,202.19 564.65,202.44 566.48,202.68 C568.30,202.92 570.12,203.16 571.94,203.39 C573.76,203.63 575.58,203.86 577.40,204.09 C579.21,204.32 581.03,204.55 582.85,204.78 C584.66,205.01 586.48,205.23 588.29,205.46 C590.11,205.68 591.92,205.90 593.74,206.13 C595.55,206.35 597.36,206.57 599.18,206.79 C600.99,207.02 602.80,207.24 604.62,207.46 C606.43,207.68 608.24,207.91 610.06,208.13 C611.87,208.35 613.68,208.58 615.50,208.80 C617.31,209.03 619.13,209.26 620.94,209.48 C622.76,209.71 624.57,209.94 626.39,210.16 C628.20,210.39 630.02,210.62 631.83,210.85 C633.65,211.08 635.46,211.31 637.28,211.54 C639.10,211.77 640.91,211.99 642.73,212.22 C644.55,212.45 646.37,212.68 648.18,212.91 C650.00,213.14 651.82,213.37 653.64,213.59 C655.46,213.82 657.27,214.05 659.09,214.27 C660.91,214.50 662.73,214.73 664.55,214.95 C666.37,215.18 668.19,215.40 670.01,215.62 C671.83,215.85 673.65,216.07 675.47,216.29 C677.29,216.51 679.11,216.73 680.93,216.95 C682.75,217.16 684.58,217.38 686.40,217.60 C688.22,217.81 690.04,218.02 691.86,218.24 C693.69,218.45 695.51,218.66 697.33,218.86 C699.16,219.07 700.98,219.28 702.80,219.48 C704.63,219.69 706.45,219.89 708.28,220.09 C710.10,220.28 711.93,220.48 713.75,220.68 C715.58,220.87 717.40,221.06 719.23,221.25 C721.05,221.44 722.88,221.63 724.71,221.81 C726.53,221.99 728.36,222.17 730.19,222.35 C732.01,222.53 733.84,222.70 735.67,222.87 C737.50,223.04 739.32,223.21 741.15,223.38 C742.98,223.54 744.81,223.70 746.64,223.86 C748.47,224.02 750.30,224.17 752.13,224.32 C753.96,224.47 755.79,224.61 757.62,224.76 C759.45,224.90 761.28,225.04 763.11,225.17 C764.94,225.31 766.77,225.44 768.60,225.57 C770.44,225.69 772.27,225.82 774.10,225.94 C775.93,226.06 777.76,226.18 779.60,226.30 C781.43,226.41 783.26,226.52 785.09,226.63 C786.93,226.74 788.76,226.85 790.59,226.96 C792.43,227.06 794.26,227.17 796.09,227.27 C797.93,227.37 799.76,227.47 801.59,227.56 C803.43,227.66 805.26,227.75 807.09,227.85 C808.93,227.94 810.76,228.03 812.59,228.12 C814.43,228.21 816.26,228.30 818.09,228.39 C819.93,228.48 821.76,228.56 823.59,228.65 C825.43,228.73 827.26,228.82 829.09,228.90 C830.93,228.98 832.76,229.07 834.59,229.15 C836.42,229.23 838.26,229.31 840.09,229.40 C841.92,229.48 843.75,229.56 845.58,229.64 C847.42,229.72 849.25,229.80 851.08,229.88 C852.91,229.96 854.74,230.05 856.57,230.13 C858.40,230.21 860.23,230.29 862.06,230.37 C863.90,230.46 865.72,230.54 867.55,230.63 C869.38,230.71 871.21,230.80 873.04,230.88 C874.87,230.97 876.70,231.06 878.53,231.14 C880.35,231.23 882.18,231.32 884.01,231.42 C885.84,231.51 887.66,231.60 889.49,231.70 C891.32,231.79 893.14,231.89 894.97,231.99 C896.79,232.09 898.62,232.19 900.44,232.29 C902.27,232.39 904.09,232.49 905.92,232.60 C907.74,232.71 909.57,232.81 911.39,232.92 C913.22,233.03 915.04,233.15 916.87,233.26 C918.70,233.37 920.52,233.49 922.35,233.61 C924.18,233.72 926.00,233.84 927.83,233.97 C929.66,234.09 931.49,234.21 933.32,234.34 C935.14,234.46 936.97,234.59 938.81,234.72 C940.64,234.85 942.47,234.99 944.30,235.12 C946.14,235.26 947.97,235.40 949.80,235.54 C951.64,235.68 953.48,235.82 955.31,235.96 C957.15,236.11 958.99,236.25 960.83,236.40 C962.67,236.55 964.52,236.70 966.36,236.86 C968.21,237.01 970.05,237.17 971.90,237.33 C973.75,237.49 975.60,237.65 977.45,237.82 C979.30,237.98 981.16,238.13 983.00,238.34 C984.82,238.55 986.66,238.76 988.44,239.10 C990.21,239.44 991.97,239.81 993.64,240.37 C995.30,240.93 996.93,241.59 998.44,242.45 C999.95,243.32 1001.39,244.38 1002.70,245.56 C1004.03,246.76 1005.25,248.15 1006.35,249.60 C1007.47,251.07 1008.47,252.69 1009.34,254.33 C1010.23,255.98 1010.99,257.74 1011.63,259.50 C1012.26,261.25 1012.76,263.07 1013.16,264.88 C1013.55,266.68 1013.81,268.51 1014.00,270.33 C1014.19,272.16 1014.27,274.01 1014.30,275.85 C1014.34,277.69 1014.29,279.54 1014.23,281.39 C1014.16,283.25 1014.04,285.10 1013.92,286.95 C1013.80,288.80 1013.66,290.65 1013.53,292.50 C1013.39,294.35 1013.25,296.19 1013.10,298.03 C1012.95,299.87 1012.79,301.70 1012.61,303.54 C1012.44,305.37 1012.26,307.19 1012.05,309.02 C1011.85,310.84 1011.64,312.66 1011.40,314.48 C1011.16,316.29 1010.91,318.10 1010.63,319.91 C1010.34,321.71 1010.04,323.51 1009.71,325.31 C1009.39,327.10 1009.03,328.89 1008.66,330.68 C1008.28,332.46 1007.88,334.24 1007.45,336.02 C1007.02,337.79 1006.57,339.56 1006.10,341.32 C1005.62,343.08 1005.13,344.84 1004.61,346.59 C1004.08,348.34 1003.54,350.08 1002.97,351.81 C1002.40,353.55 1001.81,355.28 1001.20,357.00 C1000.58,358.72 999.95,360.43 999.29,362.14 C998.63,363.84 997.94,365.54 997.24,367.23 C996.54,368.92 995.81,370.60 995.06,372.27 C994.31,373.95 993.54,375.61 992.75,377.27 C991.96,378.92 991.15,380.57 990.31,382.21 C989.48,383.84 988.62,385.47 987.75,387.09 C986.87,388.71 985.97,390.32 985.05,391.92 C984.14,393.51 983.20,395.10 982.24,396.68 C981.28,398.26 980.30,399.83 979.30,401.38 C978.30,402.94 977.29,404.49 976.25,406.02 C975.21,407.55 974.15,409.07 973.07,410.57 C971.99,412.07 970.88,413.55 969.76,415.02 C968.63,416.48 967.49,417.93 966.32,419.35 C965.15,420.78 963.95,422.18 962.74,423.56 C961.52,424.93 960.28,426.28 959.02,427.61 C957.75,428.93 956.46,430.23 955.15,431.49 C953.84,432.75 952.50,433.99 951.13,435.19 C949.77,436.39 948.38,437.56 946.96,438.69 C945.55,439.82 944.10,440.92 942.63,441.98 C941.16,443.04 939.66,444.06 938.14,445.03 C936.61,446.01 935.06,446.94 933.48,447.83 C931.90,448.72 930.29,449.57 928.65,450.37 C927.01,451.17 925.34,451.92 923.64,452.62 C921.95,453.33 920.22,453.98 918.48,454.59 C916.74,455.19 914.97,455.75 913.18,456.26 C911.40,456.77 909.59,457.23 907.78,457.63 C905.96,458.04 904.13,458.40 902.29,458.71 C900.45,459.02 898.60,459.28 896.74,459.48 C894.89,459.69 893.02,459.85 891.16,459.95 C889.29,460.05 887.43,460.11 885.56,460.11 C883.70,460.11 881.84,460.05 879.98,459.95 C878.13,459.84 876.28,459.69 874.44,459.48 C872.60,459.26 870.77,459.00 868.95,458.68 C867.14,458.36 865.34,457.99 863.56,457.56 C861.78,457.14 860.02,456.66 858.28,456.12 C856.54,455.58 854.82,454.99 853.13,454.35 C851.44,453.70 849.78,453.00 848.14,452.24 C846.50,451.49 844.89,450.68 843.30,449.83 C841.72,448.97 840.16,448.06 838.62,447.12 C837.09,446.17 835.58,445.17 834.10,444.14 C832.62,443.10 831.16,442.02 829.73,440.90 C828.29,439.79 826.89,438.63 825.51,437.44 C824.12,436.25 822.77,435.02 821.43,433.76 C820.10,432.51 818.79,431.21 817.51,429.90 C816.23,428.58 814.97,427.23 813.73,425.86 C812.50,424.49 811.29,423.09 810.10,421.67 C808.91,420.25 807.75,418.81 806.61,417.35 C805.47,415.90 804.35,414.42 803.26,412.92 C802.16,411.43 801.09,409.93 800.05,408.41 C799.00,406.89 797.98,405.36 796.97,403.82 C795.96,402.28 794.98,400.72 794.01,399.17 C793.04,397.61 792.08,396.04 791.14,394.47 C790.19,392.90 789.27,391.32 788.34,389.74 C787.42,388.15 786.51,386.57 785.60,384.98 C784.69,383.39 783.79,381.80 782.88,380.20 C781.98,378.61 781.08,377.02 780.18,375.43 C779.28,373.84 778.37,372.25 777.46,370.66 C776.55,369.07 775.64,367.49 774.71,365.91 C773.78,364.33 772.85,362.76 771.90,361.19 C770.95,359.63 769.99,358.07 769.02,356.52 C768.04,354.97 767.05,353.42 766.04,351.89 C765.03,350.36 764.00,348.84 762.96,347.33 C761.92,345.82 760.86,344.32 759.79,342.83 C758.71,341.34 757.62,339.86 756.51,338.40 C755.40,336.93 754.28,335.48 753.14,334.04 C752.00,332.60 750.84,331.18 749.66,329.77 C748.49,328.36 747.30,326.96 746.09,325.58 C744.88,324.21 743.66,322.84 742.42,321.49 C741.17,320.15 739.92,318.82 738.64,317.50 C737.36,316.19 736.07,314.89 734.76,313.61 C733.45,312.34 732.12,311.08 730.78,309.84 C729.43,308.60 728.07,307.38 726.69,306.18 C725.32,304.98 723.92,303.80 722.50,302.65 C721.09,301.49 719.66,300.36 718.21,299.25 C716.75,298.14 715.28,297.06 713.79,296.01 C712.30,294.95 710.79,293.93 709.26,292.93 C707.73,291.94 706.18,290.97 704.61,290.04 C703.04,289.10 701.44,288.21 699.83,287.34 C698.21,286.47 696.57,285.64 694.93,284.82 C693.28,284.01 691.61,283.22 689.94,282.44 C688.27,281.66 686.59,280.88 684.90,280.15 C683.21,279.41 681.51,278.70 679.80,278.03 C678.10,277.36 676.38,276.72 674.65,276.12 C672.92,275.52 671.18,274.96 669.44,274.42 C667.70,273.89 665.94,273.39 664.18,272.91 C662.42,272.44 660.66,271.99 658.88,271.57 C657.11,271.15 655.33,270.76 653.54,270.39 C651.76,270.01 649.97,269.67 648.17,269.34 C646.37,269.01 644.57,268.70 642.77,268.41 C640.96,268.12 639.15,267.84 637.34,267.58 C635.52,267.32 633.71,267.08 631.89,266.84 C630.07,266.61 628.24,266.39 626.42,266.17 C624.60,265.96 622.77,265.76 620.94,265.56 C619.11,265.36 617.29,265.17 615.46,264.98 C613.63,264.78 611.80,264.60 609.97,264.41 C608.14,264.23 606.31,264.04 604.48,263.85 C602.66,263.66 600.83,263.47 599.01,263.27 C597.18,263.08 595.36,262.88 593.54,262.67 C591.72,262.46 589.90,262.24 588.08,262.02 C586.27,261.80 584.45,261.57 582.64,261.35 C580.82,261.12 579.01,260.89 577.20,260.67 C575.38,260.44 573.57,260.21 571.76,259.99 C569.94,259.77 568.13,259.54 566.31,259.33 C564.50,259.11 562.68,258.90 560.86,258.70 C559.04,258.50 557.22,258.30 555.40,258.12 C553.57,257.93 551.75,257.76 549.92,257.59 C548.09,257.43 546.26,257.28 544.42,257.14 C542.58,257.01 540.74,256.89 538.90,256.78 C537.05,256.67 535.20,256.59 533.35,256.49 C531.50,256.39 529.65,256.30 527.80,256.18 C525.95,256.06 524.10,255.94 522.25,255.77 C520.41,255.61 518.57,255.43 516.74,255.18 C514.90,254.94 513.07,254.68 511.26,254.31 C509.46,253.95 507.66,253.55 505.91,253.00 C504.18,252.46 502.46,251.82 500.84,251.03 C499.22,250.23 497.65,249.28 496.19,248.22 C494.73,247.15 493.34,245.94 492.09,244.64 C490.84,243.35 489.67,241.92 488.67,240.42 C487.66,238.92 486.76,237.32 486.05,235.66 C485.33,234.00 484.75,232.25 484.36,230.48 C483.97,228.70 483.75,226.83 483.73,224.99 Z" fill="rgb(175,209,238)" fill-opacity="0.35"/>
</g>
<g fill="none" stroke-width="2">
<path d="M150.36,105.27 C151.02,105.27 151.68,105.27 152.35,105.30 C153.01,105.32 153.67,105.36 154.33,105.42 C155.00,105.48 155.66,105.55 156.32,105.64 C156.98,105.72 157.64,105.83 158.29,105.94 C158.95,106.05 159.61,106.18 160.26,106.32 C160.92,106.46 161.57,106.62 162.23,106.78 C162.88,106.95 163.53,107.12 164.18,107.31 C164.83,107.49 165.48,107.69 166.13,107.90 C166.77,108.10 167.42,108.32 168.06,108.54 C168.71,108.77 169.35,109.00 169.99,109.24 C170.63,109.48 171.26,109.72 171.90,109.97 C172.53,110.23 173.17,110.49 173.80,110.75 C174.43,111.01 175.06,111.28 175.68,111.56 C176.31,111.83 176.93,112.11 177.56,112.39 C178.18,112.67 178.79,112.95 179.41,113.24 C180.03,113.52 180.64,113.81 181.25,114.10 C181.86,114.39 182.47,114.68 183.07,114.97 C183.68,115.26 184.28,115.56 184.88,115.85 C185.49,116.15 186.08,116.44 186.68,116.74 C187.28,117.04 187.87,117.33 188.47,117.63 C189.06,117.93 189.66,118.23 190.25,118.53 C190.84,118.83 191.43,119.14 192.02,119.44 C192.61,119.74 193.20,120.04 193.79,120.34 C194.38,120.65 194.96,120.95 195.55,121.25 C196.14,121.55 196.73,121.86 197.31,122.16 C197.90,122.46 198.49,122.77 199.07,123.07 C199.66,123.37 200.25,123.67 200.84,123.98 C201.43,124.28 202.02,124.58 202.61,124.88 C203.20,125.18 203.79,125.48 204.38,125.78 C204.97,126.08 205.56,126.38 206.16,126.67 C206.75,126.97 207.35,127.27 207.95,127.56 C208.54,127.86 209.14,128.15 209.74,128.44 C210.35,128.73 210.95,129.02 211.56,129.31 C212.16,129.60 212.77,129.89 213.38,130.18 C213.99,130.46 214.61,130.75 215.22,131.03 C215.84,131.31 216.46,131.59 217.08,131.87 C217.70,132.15 218.32,132.42 218.95,132.70 C219.57,132.97 220.20,133.25 220.83,133.52 C221.46,133.80 222.09,134.07 222.72,134.35 C223.35,134.62 223.98,134.90 224.61,135.17 C225.24,135.45 225.87,135.72 226.50,136.00 C227.13,136.28 227.76,136.56 228.39,136.84 C229.02,137.12 229.65,137.40 230.27,137.68 C230.90,137.96 231.52,138.25 232.14,138.54 C232.76,138.83 233.38,139.12 234.00,139.41 C234.62,139.71 235.23,140.01 235.84,140.31 C236.45,140.61 237.06,140.92 237.66,141.23 C238.26,141.54 238.86,141.85 239.46,142.17 C240.05,142.49 240.64,142.81 241.23,143.14 C241.81,143.47 242.39,143.81 242.97,144.15 C243.54,144.49 244.11,144.83 244.67,145.19 C245.23,145.54 245.79,145.90 246.34,146.27 C246.88,146.63 247.43,147.01 247.96,147.39 C248.49,147.77 249.02,148.16 249.54,148.55 C250.06,148.95 250.57,149.35 251.07,149.77 C251.58,150.18 252.07,150.60 252.56,151.03 C253.04,151.46 253.52,151.90 253.98,152.35 C254.45,152.80 254.91,153.26 255.35,153.73 C255.80,154.19 256.23,154.67 256.66,155.16 C257.08,155.65 257.50,156.15 257.90,156.66 C258.30,157.17 258.70,157.70 259.07,158.23 C259.45,158.76 259.82,159.31 260.18,159.87 C260.53,160.42 260.87,160.99 261.21,161.57 C261.54,162.15 261.85,162.73 262.16,163.33 C262.47,163.93 262.76,164.54 263.04,165.15 C263.32,165.76 263.59,166.39 263.85,167.02 C264.10,167.65 264.35,168.29 264.58,168.93 C264.81,169.58 265.03,170.23 265.23,170.89 C265.44,171.54 265.63,172.21 265.81,172.87 C265.99,173.54 266.15,174.22 266.31,174.89 C266.46,175.57 266.60,176.25 266.73,176.93 C266.86,177.62 266.97,178.30 267.07,178.99 C267.17,179.68 267.26,180.38 267.33,181.07 C267.41,181.76 267.47,182.46 267.51,183.15 C267.56,183.85 267.59,184.54 267.61,185.24 C267.63,185.93 267.64,186.63 267.63,187.32 C267.62,188.01 267.60,188.71 267.57,189.40 C267.53,190.09 267.48,190.77 267.42,191.46 C267.36,192.14 267.28,192.83 267.19,193.51 C267.10,194.18 267.00,194.86 266.88,195.53 C266.76,196.20 266.62,196.86 266.48,197.52 C266.33,198.18 266.17,198.84 265.99,199.49 C265.81,200.13 265.62,200.77 265.42,201.41 C265.21,202.04 264.99,202.67 264.76,203.29 C264.52,203.90 264.27,204.51 264.01,205.12 C263.75,205.72 263.47,206.31 263.17,206.89 C262.88,207.47 262.57,208.05 262.25,208.61 C261.93,209.17 261.59,209.73 261.25,210.27 C260.90,210.82 260.53,211.35 260.16,211.88 C259.79,212.41 259.40,212.92 259.00,213.43 C258.60,213.94 258.18,214.44 257.76,214.92 C257.34,215.41 256.90,215.89 256.46,216.36 C256.01,216.83 255.55,217.29 255.08,217.74 C254.61,218.20 254.13,218.64 253.65,219.07 C253.16,219.50 252.66,219.93 252.15,220.34 C251.64,220.75 251.12,221.16 250.59,221.55 C250.07,221.95 249.53,222.33 248.99,222.71 C248.44,223.09 247.89,223.45 247.33,223.81 C246.77,224.17 246.20,224.52 245.62,224.85 C245.05,225.19 244.46,225.52 243.87,225.84 C243.28,226.16 242.68,226.47 242.08,226.77 C241.48,227.08 240.87,227.37 240.25,227.65 C239.64,227.93 239.02,228.21 238.39,228.47 C237.77,228.73 237.13,228.99 236.50,229.23 C235.86,229.48 235.22,229.71 234.58,229.94 C233.93,230.17 233.29,230.38 232.63,230.59 C231.98,230.80 231.33,231.00 230.67,231.18 C230.01,231.37 229.35,231.55 228.68,231.72 C228.02,231.89 227.35,232.05 226.69,232.20 C226.02,232.36 225.35,232.50 224.68,232.63 C224.01,232.76 223.33,232.88 222.66,233.00 C221.99,233.11 221.31,233.22 220.64,233.31 C219.96,233.41 219.29,233.49 218.61,233.57 C217.94,233.64 217.27,233.71 216.59,233.77 C215.92,233.83 215.25,233.87 214.57,233.91 C213.90,233.95 213.23,233.98 212.56,234.01 C211.89,234.03 211.22,234.05 210.55,234.06 C209.88,234.07 209.21,234.07 208.54,234.06 C207.87,234.06 207.21,234.05 206.54,234.04 C205.87,234.02 205.20,234.00 204.54,233.97 C203.87,233.95 203.20,233.92 202.54,233.88 C201.87,233.85 201.20,233.81 200.54,233.77 C199.87,233.73 199.21,233.69 198.54,233.64 C197.88,233.59 197.21,233.54 196.55,233.49 C195.88,233.44 195.22,233.39 194.56,233.34 C193.89,233.29 193.23,233.23 192.56,233.18 C191.90,233.13 191.23,233.07 190.57,233.02 C189.91,232.97 189.24,232.91 188.58,232.86 C187.91,232.81 187.25,232.76 186.58,232.72 C185.92,232.67 185.26,232.62 184.59,232.58 C183.93,232.54 183.26,232.50 182.60,232.47 C181.93,232.43 181.27,232.40 180.60,232.37 C179.94,232.35 179.27,232.32 178.60,232.31 C177.94,232.29 177.27,232.27 176.60,232.26 C175.94,232.25 175.27,232.25 174.60,232.24 C173.94,232.24 173.27,232.24 172.60,232.24 C171.93,232.24 171.26,232.24 170.59,232.25 C169.92,232.25 169.25,232.26 168.58,232.27 C167.91,232.28 167.24,232.29 166.57,232.30 C165.90,232.30 165.22,232.31 164.55,232.32 C163.88,232.33 163.20,232.34 162.53,232.35 C161.85,232.36 161.18,232.37 160.50,232.37 C159.83,232.38 159.15,232.39 158.47,232.39 C157.79,232.39 157.11,232.39 156.43,232.39 C155.75,232.39 155.07,232.38 154.39,232.37 C153.71,232.37 153.02,232.35 152.34,232.34 C151.65,232.32 150.97,232.30 150.28,232.28 C149.60,232.25 148.91,232.23 148.22,232.19 C147.53,232.16 146.84,232.12 146.15,232.07 C145.47,232.03 144.78,231.98 144.09,231.92 C143.40,231.86 142.71,231.79 142.03,231.72 C141.34,231.64 140.66,231.56 139.98,231.47 C139.30,231.38 138.62,231.28 137.94,231.17 C137.26,231.07 136.59,230.95 135.92,230.82 C135.25,230.69 134.58,230.55 133.92,230.40 C133.26,230.25 132.60,230.09 131.95,229.92 C131.29,229.75 130.64,229.57 130.00,229.37 C129.36,229.17 128.72,228.96 128.09,228.74 C127.46,228.51 126.84,228.28 126.22,228.03 C125.60,227.78 124.99,227.51 124.39,227.23 C123.78,226.96 123.19,226.67 122.60,226.36 C122.01,226.06 121.42,225.74 120.85,225.42 C120.28,225.09 119.71,224.75 119.15,224.40 C118.59,224.04 118.03,223.68 117.49,223.30 C116.95,222.93 116.41,222.54 115.88,222.15 C115.35,221.75 114.83,221.34 114.32,220.92 C113.81,220.50 113.30,220.07 112.81,219.63 C112.31,219.20 111.83,218.75 111.35,218.29 C110.87,217.83 110.40,217.36 109.94,216.89 C109.48,216.41 109.03,215.92 108.59,215.43 C108.14,214.94 107.71,214.43 107.29,213.92 C106.86,213.41 106.45,212.89 106.05,212.36 C105.64,211.84 105.25,211.30 104.86,210.76 C104.48,210.22 104.10,209.67 103.74,209.11 C103.37,208.56 103.02,208.00 102.67,207.43 C102.33,206.86 101.99,206.28 101.67,205.70 C101.35,205.12 101.03,204.54 100.73,203.94 C100.43,203.35 100.14,202.75 99.86,202.15 C99.58,201.55 99.31,200.94 99.05,200.33 C98.79,199.72 98.54,199.10 98.31,198.48 C98.07,197.86 97.85,197.24 97.64,196.61 C97.42,195.98 97.22,195.35 97.03,194.72 C96.84,194.08 96.67,193.45 96.50,192.81 C96.34,192.17 96.18,191.52 96.04,190.88 C95.90,190.23 95.77,189.58 95.65,188.93 C95.54,188.29 95.43,187.63 95.34,186.98 C95.24,186.33 95.16,185.67 95.09,185.01 C95.01,184.35 94.95,183.69 94.90,183.03 C94.85,182.37 94.81,181.71 94.79,181.05 C94.76,180.38 94.74,179.72 94.73,179.05 C94.73,178.39 94.73,177.72 94.74,177.05 C94.76,176.38 94.78,175.72 94.81,175.05 C94.85,174.38 94.89,173.71 94.94,173.04 C95.00,172.37 95.06,171.70 95.13,171.03 C95.21,170.36 95.29,169.69 95.38,169.02 C95.47,168.35 95.57,167.68 95.68,167.01 C95.79,166.34 95.91,165.67 96.04,165.01 C96.17,164.34 96.31,163.67 96.45,163.00 C96.60,162.34 96.75,161.67 96.91,161.01 C97.07,160.34 97.25,159.68 97.42,159.02 C97.60,158.35 97.79,157.69 97.98,157.03 C98.18,156.37 98.38,155.72 98.59,155.06 C98.80,154.40 99.02,153.75 99.25,153.10 C99.47,152.45 99.71,151.80 99.95,151.15 C100.19,150.50 100.43,149.86 100.69,149.22 C100.94,148.57 101.20,147.93 101.47,147.30 C101.74,146.66 102.02,146.02 102.30,145.39 C102.58,144.76 102.87,144.13 103.16,143.51 C103.46,142.88 103.76,142.26 104.06,141.64 C104.37,141.02 104.68,140.41 105.00,139.80 C105.32,139.19 105.64,138.58 105.97,137.98 C106.30,137.37 106.64,136.77 106.98,136.18 C107.32,135.58 107.67,134.99 108.02,134.40 C108.37,133.82 108.73,133.24 109.09,132.66 C109.45,132.08 109.82,131.51 110.19,130.94 C110.56,130.37 110.93,129.81 111.31,129.25 C111.69,128.69 112.08,128.14 112.47,127.59 C112.86,127.05 113.25,126.51 113.66,125.97 C114.06,125.44 114.46,124.91 114.87,124.39 C115.29,123.87 115.70,123.35 116.13,122.84 C116.55,122.34 116.98,121.84 117.42,121.34 C117.86,120.85 118.30,120.37 118.75,119.89 C119.20,119.41 119.66,118.95 120.13,118.49 C120.59,118.03 121.07,117.58 121.55,117.14 C122.03,116.70 122.52,116.26 123.02,115.84 C123.51,115.42 124.02,115.01 124.54,114.61 C125.05,114.21 125.57,113.82 126.11,113.44 C126.64,113.06 127.18,112.69 127.73,112.33 C128.29,111.97 128.85,111.62 129.42,111.29 C129.99,110.96 130.57,110.63 131.16,110.32 C131.74,110.01 132.34,109.72 132.94,109.43 C133.55,109.15 134.16,108.88 134.77,108.62 C135.39,108.36 136.01,108.11 136.64,107.88 C137.27,107.65 137.90,107.44 138.54,107.23 C139.18,107.03 139.82,106.84 140.47,106.67 C141.12,106.50 141.77,106.34 142.42,106.20 C143.08,106.06 143.73,105.93 144.39,105.82 C145.05,105.71 145.71,105.62 146.37,105.54 C147.04,105.46 147.70,105.40 148.36,105.36 C149.03,105.31 149.69,105.28 150.36,105.27 Z" stroke="#eb9a5e"/>
<path d="M240.72,415.74 C241.42,415.65 242.13,415.57 242.83,415.50 C243.54,415.43 244.24,415.37 244.94,415.30 C245.64,415.24 246.34,415.19 247.05,415.14 C247.75,415.09 248.45,415.05 249.15,415.01 C249.85,414.97 250.55,414.94 251.24,414.91 C251.94,414.88 252.64,414.86 253.34,414.84 C254.04,414.82 254.74,414.81 255.43,414.80 C256.13,414.78 256.83,414.78 257.52,414.77 C258.22,414.77 258.92,414.77 259.61,414.77 C260.31,414.78 261.00,414.78 261.70,414.79 C262.39,414.80 263.09,414.81 263.79,414.83 C264.48,414.84 265.18,414.86 265.87,414.88 C266.57,414.90 267.26,414.92 267.96,414.94 C268.65,414.97 269.35,414.99 270.04,415.02 C270.73,415.04 271.43,415.07 272.12,415.10 C272.82,415.13 273.52,415.16 274.21,415.19 C274.91,415.22 275.60,415.25 276.30,415.28 C276.99,415.31 277.69,415.34 278.38,415.37 C279.08,415.41 279.78,415.44 280.47,415.47 C281.17,415.50 281.87,415.53 282.56,415.56 C283.26,415.59 283.96,415.62 284.66,415.64 C285.36,415.67 286.06,415.70 286.75,415.72 C287.45,415.74 288.15,415.77 288.85,415.79 C289.55,415.81 290.25,415.83 290.96,415.84 C291.66,415.86 292.36,415.88 293.06,415.89 C293.76,415.90 294.47,415.91 295.17,415.91 C295.88,415.92 296.58,415.92 297.29,415.92 C297.99,415.92 298.70,415.92 299.40,415.91 C300.11,415.90 300.82,415.89 301.53,415.87 C302.24,415.86 302.95,415.84 303.66,415.81 C304.37,415.79 305.08,415.76 305.79,415.72 C306.50,415.69 307.22,415.65 307.93,415.61 C308.65,415.57 309.36,415.52 310.07,415.48 C310.79,415.43 311.50,415.38 312.22,415.34 C312.93,415.29 313.65,415.24 314.36,415.19 C315.08,415.15 315.79,415.10 316.51,415.06 C317.22,415.01 317.93,414.97 318.64,414.93 C319.35,414.90 320.07,414.86 320.78,414.83 C321.48,414.80 322.19,414.78 322.90,414.76 C323.61,414.75 324.31,414.73 325.01,414.73 C325.72,414.73 326.42,414.73 327.12,414.75 C327.82,414.76 328.51,414.78 329.21,414.82 C329.90,414.85 330.59,414.89 331.28,414.95 C331.97,415.00 332.66,415.07 333.34,415.15 C334.02,415.23 334.70,415.32 335.38,415.43 C336.05,415.54 336.73,415.66 337.39,415.79 C338.06,415.92 338.73,416.07 339.39,416.24 C340.05,416.40 340.70,416.58 341.35,416.77 C342.00,416.96 342.65,417.17 343.29,417.39 C343.93,417.61 344.56,417.85 345.19,418.10 C345.82,418.35 346.44,418.62 347.06,418.90 C347.67,419.19 348.28,419.49 348.88,419.80 C349.49,420.12 350.08,420.45 350.67,420.80 C351.26,421.15 351.84,421.52 352.41,421.90 C352.99,422.28 353.55,422.68 354.11,423.09 C354.67,423.50 355.22,423.93 355.75,424.37 C356.30,424.81 356.83,425.26 357.35,425.73 C357.87,426.20 358.38,426.68 358.89,427.17 C359.39,427.67 359.88,428.18 360.36,428.69 C360.85,429.21 361.32,429.74 361.78,430.28 C362.25,430.83 362.70,431.38 363.14,431.94 C363.58,432.51 364.01,433.08 364.43,433.66 C364.85,434.24 365.25,434.84 365.65,435.44 C366.04,436.04 366.42,436.65 366.79,437.27 C367.16,437.89 367.52,438.51 367.87,439.15 C368.21,439.78 368.54,440.42 368.86,441.07 C369.18,441.71 369.48,442.37 369.78,443.03 C370.07,443.69 370.34,444.35 370.61,445.02 C370.87,445.69 371.12,446.37 371.35,447.05 C371.59,447.73 371.81,448.41 372.01,449.10 C372.21,449.79 372.40,450.48 372.58,451.17 C372.75,451.86 372.91,452.56 373.05,453.26 C373.19,453.96 373.31,454.66 373.42,455.36 C373.53,456.06 373.62,456.76 373.70,457.47 C373.77,458.17 373.83,458.87 373.87,459.58 C373.91,460.28 373.93,460.98 373.94,461.68 C373.94,462.38 373.93,463.08 373.90,463.78 C373.87,464.48 373.83,465.17 373.76,465.87 C373.70,466.56 373.62,467.24 373.52,467.93 C373.42,468.61 373.30,469.29 373.17,469.97 C373.04,470.64 372.89,471.31 372.72,471.97 C372.55,472.63 372.36,473.29 372.16,473.94 C371.95,474.59 371.73,475.23 371.49,475.86 C371.25,476.50 371.00,477.12 370.72,477.74 C370.45,478.35 370.16,478.96 369.84,479.56 C369.54,480.16 369.21,480.74 368.86,481.32 C368.52,481.89 368.15,482.46 367.77,483.01 C367.39,483.56 366.99,484.10 366.58,484.63 C366.16,485.16 365.73,485.67 365.28,486.18 C364.83,486.68 364.37,487.18 363.89,487.66 C363.41,488.15 362.92,488.62 362.42,489.09 C361.91,489.56 361.40,490.01 360.87,490.46 C360.34,490.91 359.81,491.36 359.26,491.79 C358.71,492.23 358.16,492.66 357.59,493.08 C357.03,493.51 356.46,493.92 355.88,494.34 C355.30,494.75 354.72,495.16 354.13,495.56 C353.54,495.97 352.94,496.37 352.35,496.77 C351.75,497.17 351.15,497.56 350.55,497.96 C349.94,498.35 349.34,498.75 348.73,499.14 C348.13,499.53 347.52,499.93 346.92,500.32 C346.31,500.71 345.71,501.10 345.11,501.50 C344.51,501.89 343.91,502.29 343.31,502.69 C342.72,503.09 342.13,503.49 341.54,503.89 C340.95,504.29 340.36,504.69 339.77,505.09 C339.19,505.50 338.60,505.90 338.02,506.31 C337.44,506.71 336.86,507.12 336.28,507.52 C335.71,507.93 335.13,508.34 334.56,508.75 C333.98,509.15 333.41,509.56 332.84,509.97 C332.27,510.38 331.70,510.79 331.13,511.20 C330.56,511.61 329.99,512.01 329.42,512.42 C328.86,512.83 328.29,513.24 327.73,513.65 C327.16,514.06 326.60,514.47 326.03,514.87 C325.47,515.28 324.91,515.69 324.34,516.10 C323.78,516.50 323.22,516.91 322.66,517.31 C322.09,517.72 321.53,518.12 320.97,518.52 C320.41,518.93 319.84,519.33 319.28,519.73 C318.72,520.13 318.15,520.53 317.59,520.93 C317.03,521.32 316.46,521.72 315.90,522.11 C315.33,522.51 314.77,522.90 314.20,523.29 C313.63,523.68 313.06,524.07 312.49,524.46 C311.93,524.84 311.36,525.23 310.78,525.61 C310.21,525.99 309.64,526.37 309.07,526.75 C308.49,527.12 307.92,527.50 307.34,527.87 C306.76,528.24 306.18,528.61 305.60,528.98 C305.02,529.34 304.43,529.71 303.85,530.07 C303.26,530.43 302.67,530.79 302.08,531.14 C301.49,531.49 300.90,531.84 300.30,532.19 C299.71,532.54 299.11,532.88 298.51,533.22 C297.91,533.56 297.30,533.90 296.70,534.23 C296.09,534.56 295.48,534.89 294.87,535.21 C294.25,535.54 293.64,535.86 293.02,536.17 C292.40,536.49 291.77,536.80 291.15,537.10 C290.52,537.41 289.89,537.71 289.25,538.01 C288.62,538.31 287.98,538.60 287.34,538.89 C286.69,539.17 286.04,539.46 285.39,539.73 C284.74,540.01 284.09,540.28 283.43,540.55 C282.77,540.82 282.11,541.08 281.44,541.33 C280.77,541.59 280.10,541.84 279.43,542.08 C278.76,542.32 278.08,542.56 277.40,542.79 C276.72,543.02 276.04,543.24 275.36,543.46 C274.67,543.68 273.99,543.89 273.30,544.09 C272.61,544.29 271.92,544.49 271.22,544.68 C270.53,544.86 269.84,545.05 269.14,545.22 C268.44,545.39 267.74,545.55 267.04,545.71 C266.35,545.87 265.64,546.01 264.94,546.15 C264.24,546.29 263.54,546.42 262.83,546.54 C262.13,546.67 261.43,546.78 260.72,546.88 C260.02,546.99 259.32,547.08 258.61,547.17 C257.91,547.25 257.20,547.32 256.50,547.39 C255.79,547.45 255.09,547.51 254.39,547.55 C253.68,547.60 252.98,547.63 252.28,547.66 C251.58,547.68 250.88,547.69 250.18,547.70 C249.48,547.70 248.78,547.69 248.08,547.67 C247.39,547.65 246.69,547.62 246.00,547.57 C245.31,547.53 244.61,547.47 243.92,547.41 C243.24,547.34 242.55,547.26 241.86,547.17 C241.18,547.08 240.50,546.98 239.82,546.86 C239.14,546.74 238.47,546.61 237.79,546.47 C237.12,546.33 236.45,546.17 235.78,546.01 C235.12,545.84 234.45,545.66 233.80,545.46 C233.14,545.26 232.48,545.05 231.83,544.83 C231.18,544.61 230.53,544.37 229.89,544.12 C229.25,543.87 228.61,543.60 227.98,543.32 C227.34,543.04 226.71,542.74 226.09,542.44 C225.47,542.13 224.85,541.81 224.24,541.47 C223.63,541.14 223.02,540.79 222.43,540.43 C221.83,540.06 221.24,539.69 220.66,539.30 C220.07,538.92 219.50,538.52 218.93,538.11 C218.36,537.70 217.80,537.28 217.25,536.84 C216.70,536.41 216.16,535.97 215.63,535.51 C215.09,535.06 214.57,534.59 214.06,534.11 C213.54,533.64 213.04,533.15 212.55,532.65 C212.06,532.15 211.57,531.65 211.10,531.13 C210.63,530.61 210.18,530.09 209.73,529.55 C209.28,529.02 208.85,528.47 208.42,527.92 C208.00,527.37 207.59,526.81 207.20,526.24 C206.80,525.67 206.42,525.09 206.05,524.51 C205.68,523.92 205.32,523.33 204.98,522.73 C204.64,522.13 204.31,521.52 204.00,520.91 C203.69,520.30 203.39,519.68 203.11,519.05 C202.83,518.43 202.57,517.79 202.32,517.15 C202.07,516.52 201.84,515.87 201.63,515.22 C201.41,514.57 201.22,513.92 201.03,513.26 C200.85,512.60 200.69,511.94 200.54,511.27 C200.39,510.60 200.26,509.93 200.14,509.25 C200.02,508.57 199.92,507.89 199.82,507.21 C199.73,506.52 199.65,505.83 199.58,505.14 C199.51,504.45 199.46,503.76 199.41,503.06 C199.36,502.36 199.33,501.66 199.30,500.96 C199.27,500.25 199.26,499.55 199.24,498.84 C199.23,498.13 199.23,497.43 199.23,496.72 C199.24,496.00 199.25,495.29 199.26,494.58 C199.28,493.86 199.30,493.15 199.32,492.43 C199.35,491.72 199.38,491.00 199.41,490.28 C199.44,489.57 199.47,488.85 199.51,488.13 C199.54,487.41 199.58,486.70 199.61,485.98 C199.65,485.26 199.69,484.54 199.72,483.83 C199.76,483.11 199.79,482.40 199.82,481.68 C199.85,480.97 199.88,480.26 199.91,479.54 C199.94,478.83 199.96,478.12 199.98,477.41 C200.00,476.71 200.02,476.00 200.03,475.29 C200.05,474.59 200.07,473.88 200.08,473.17 C200.10,472.47 200.11,471.77 200.13,471.06 C200.15,470.36 200.16,469.66 200.18,468.96 C200.20,468.25 200.22,467.55 200.25,466.85 C200.27,466.15 200.30,465.45 200.33,464.75 C200.36,464.05 200.39,463.34 200.43,462.64 C200.47,461.94 200.51,461.24 200.56,460.54 C200.61,459.84 200.67,459.14 200.73,458.43 C200.79,457.73 200.86,457.03 200.94,456.32 C201.02,455.62 201.10,454.92 201.19,454.22 C201.29,453.51 201.39,452.81 201.50,452.11 C201.61,451.41 201.73,450.72 201.86,450.02 C201.99,449.33 202.13,448.63 202.29,447.95 C202.44,447.26 202.60,446.57 202.78,445.89 C202.96,445.21 203.15,444.54 203.35,443.87 C203.55,443.20 203.76,442.53 203.99,441.87 C204.22,441.21 204.46,440.56 204.72,439.91 C204.98,439.27 205.25,438.63 205.54,438.00 C205.83,437.37 206.13,436.75 206.45,436.13 C206.77,435.52 207.11,434.92 207.46,434.32 C207.82,433.73 208.19,433.14 208.57,432.57 C208.95,432.00 209.36,431.43 209.77,430.88 C210.19,430.33 210.62,429.80 211.06,429.27 C211.51,428.75 211.97,428.23 212.44,427.73 C212.92,427.24 213.40,426.75 213.91,426.28 C214.41,425.81 214.92,425.36 215.45,424.92 C215.98,424.48 216.52,424.06 217.07,423.65 C217.63,423.24 218.19,422.85 218.77,422.48 C219.35,422.11 219.94,421.76 220.54,421.43 C221.14,421.09 221.75,420.78 222.37,420.48 C222.99,420.18 223.63,419.90 224.27,419.63 C224.91,419.37 225.56,419.12 226.21,418.88 C226.87,418.65 227.54,418.43 228.21,418.22 C228.88,418.02 229.56,417.83 230.24,417.65 C230.92,417.47 231.61,417.30 232.30,417.14 C232.99,416.99 233.69,416.84 234.39,416.71 C235.09,416.57 235.79,416.45 236.49,416.33 C237.19,416.22 237.90,416.11 238.60,416.01 C239.31,415.91 240.01,415.82 240.72,415.74 Z" stroke="#617b4b"/>
<path d="M374.25,508.97 C374.32,507.33 374.49,505.67 374.74,504.05 C375.00,502.41 375.36,500.77 375.80,499.17 C376.24,497.57 376.77,495.98 377.39,494.43 C378.00,492.88 378.70,491.36 379.48,489.89 C380.25,488.43 381.11,487.01 382.04,485.65 C382.97,484.30 383.97,483.00 385.04,481.78 C386.11,480.56 387.26,479.42 388.45,478.33 C389.64,477.24 390.90,476.22 392.19,475.24 C393.48,474.26 394.83,473.34 396.19,472.44 C397.55,471.54 398.96,470.69 400.37,469.84 C401.78,469.00 403.22,468.18 404.65,467.37 C406.09,466.55 407.54,465.75 408.97,464.93 C410.40,464.11 411.83,463.29 413.25,462.46 C414.67,461.63 416.07,460.79 417.47,459.94 C418.87,459.09 420.26,458.23 421.64,457.37 C423.03,456.50 424.40,455.63 425.78,454.76 C427.15,453.88 428.51,453.00 429.88,452.11 C431.24,451.23 432.59,450.34 433.95,449.45 C435.30,448.56 436.66,447.66 438.01,446.77 C439.36,445.88 440.71,444.98 442.06,444.08 C443.41,443.19 444.76,442.29 446.11,441.39 C447.46,440.50 448.81,439.60 450.17,438.71 C451.52,437.82 452.88,436.93 454.24,436.05 C455.61,435.17 456.97,434.28 458.35,433.41 C459.72,432.53 461.10,431.66 462.48,430.80 C463.87,429.94 465.26,429.08 466.66,428.23 C468.06,427.38 469.47,426.54 470.88,425.71 C472.30,424.87 473.73,424.05 475.17,423.24 C476.61,422.42 478.06,421.62 479.52,420.83 C480.99,420.04 482.46,419.26 483.95,418.50 C485.44,417.73 486.94,416.98 488.46,416.24 C489.98,415.50 491.52,414.78 493.05,414.06 C494.59,413.34 496.15,412.64 497.69,411.92 C499.23,411.21 500.77,410.49 502.28,409.75 C503.79,409.00 505.29,408.25 506.75,407.45 C508.20,406.65 509.64,405.84 511.01,404.95 C512.38,404.08 513.72,403.17 514.99,402.19 C516.25,401.21 517.46,400.17 518.59,399.07 C519.73,397.96 520.79,396.79 521.80,395.57 C522.82,394.35 523.77,393.07 524.69,391.76 C525.61,390.45 526.47,389.09 527.32,387.71 C528.17,386.32 528.97,384.90 529.77,383.47 C530.57,382.04 531.34,380.58 532.12,379.12 C532.90,377.67 533.65,376.19 534.43,374.73 C535.22,373.28 535.99,371.82 536.81,370.39 C537.62,368.97 538.45,367.55 539.33,366.18 C540.20,364.83 541.11,363.48 542.08,362.21 C543.05,360.95 544.07,359.71 545.16,358.57 C546.26,357.43 547.42,356.34 548.66,355.35 C549.91,354.35 551.25,353.46 552.62,352.61 C554.01,351.75 555.47,350.99 556.93,350.24 C558.41,349.48 559.93,348.79 561.43,348.08 C562.94,347.37 564.46,346.68 565.97,345.99 C567.48,345.29 568.99,344.60 570.49,343.91 C571.99,343.22 573.50,342.53 575.00,341.85 C576.50,341.17 578.00,340.49 579.50,339.82 C581.00,339.15 582.50,338.48 584.00,337.82 C585.51,337.17 587.01,336.52 588.52,335.87 C590.03,335.23 591.54,334.60 593.05,333.97 C594.57,333.34 596.08,332.72 597.60,332.10 C599.12,331.48 600.64,330.87 602.16,330.26 C603.68,329.66 605.20,329.05 606.72,328.45 C608.24,327.85 609.76,327.25 611.29,326.65 C612.81,326.05 614.33,325.45 615.85,324.85 C617.37,324.24 618.89,323.64 620.41,323.04 C621.93,322.43 623.45,321.83 624.97,321.21 C626.48,320.60 628.00,319.99 629.51,319.36 C631.02,318.74 632.53,318.12 634.04,317.48 C635.55,316.85 637.05,316.21 638.56,315.57 C640.06,314.93 641.56,314.28 643.06,313.63 C644.56,312.98 646.06,312.33 647.55,311.67 C649.05,311.01 650.54,310.34 652.04,309.68 C653.53,309.01 655.02,308.34 656.51,307.67 C658.00,307.00 659.49,306.32 660.98,305.65 C662.47,304.97 663.95,304.29 665.44,303.61 C666.93,302.93 668.41,302.24 669.90,301.56 C671.38,300.87 672.87,300.19 674.35,299.50 C675.84,298.81 677.32,298.12 678.80,297.43 C680.29,296.74 681.77,296.05 683.25,295.36 C684.74,294.67 686.22,293.98 687.70,293.29 C689.19,292.60 690.67,291.91 692.16,291.22 C693.64,290.53 695.13,289.84 696.61,289.15 C698.10,288.46 699.58,287.77 701.07,287.09 C702.56,286.40 704.04,285.72 705.53,285.04 C707.02,284.36 708.51,283.67 710.00,283.00 C711.49,282.32 712.98,281.64 714.48,280.97 C715.97,280.30 717.47,279.63 718.96,278.96 C720.46,278.30 721.96,277.63 723.46,276.98 C724.96,276.32 726.46,275.66 727.96,275.01 C729.47,274.36 730.97,273.71 732.48,273.07 C733.99,272.42 735.50,271.79 737.01,271.15 C738.52,270.52 740.04,269.89 741.56,269.27 C743.07,268.65 744.59,268.03 746.12,267.42 C747.64,266.81 749.17,266.20 750.69,265.60 C752.22,265.01 753.76,264.41 755.29,263.83 C756.83,263.24 758.36,262.66 759.91,262.09 C761.45,261.52 762.99,260.95 764.54,260.40 C766.09,259.84 767.64,259.29 769.20,258.75 C770.75,258.22 772.31,257.69 773.88,257.21 C775.43,256.73 777.00,256.26 778.57,255.86 C780.12,255.47 781.69,255.11 783.26,254.83 C784.82,254.56 786.39,254.34 787.95,254.22 C789.51,254.11 791.08,254.06 792.64,254.14 C794.20,254.21 795.76,254.38 797.30,254.69 C798.87,255.00 800.43,255.43 801.95,255.98 C803.51,256.54 805.04,257.25 806.54,258.03 C808.06,258.82 809.54,259.74 810.98,260.69 C812.43,261.66 813.84,262.71 815.19,263.80 C816.53,264.88 817.83,266.03 819.08,267.21 C820.31,268.38 821.49,269.60 822.61,270.86 C823.72,272.11 824.78,273.41 825.78,274.74 C826.77,276.06 827.70,277.42 828.57,278.82 C829.43,280.21 830.23,281.63 830.96,283.09 C831.69,284.53 832.35,286.01 832.94,287.52 C833.53,289.02 834.05,290.55 834.49,292.09 C834.94,293.64 835.31,295.21 835.60,296.79 C835.90,298.38 836.12,299.99 836.26,301.60 C836.40,303.22 836.46,304.85 836.44,306.48 C836.42,308.13 836.32,309.78 836.14,311.42 C835.96,313.07 835.70,314.72 835.36,316.34 C835.02,317.96 834.59,319.58 834.09,321.15 C833.59,322.72 833.00,324.28 832.34,325.79 C831.67,327.28 830.93,328.75 830.10,330.16 C829.28,331.55 828.37,332.91 827.38,334.19 C826.40,335.46 825.32,336.66 824.18,337.80 C823.04,338.93 821.81,339.98 820.56,340.99 C819.30,342.01 817.97,342.95 816.64,343.89 C815.31,344.83 813.94,345.73 812.57,346.63 C811.21,347.53 809.83,348.42 808.45,349.30 C807.06,350.18 805.67,351.05 804.28,351.92 C802.88,352.78 801.48,353.63 800.07,354.48 C798.66,355.33 797.25,356.17 795.83,357.00 C794.41,357.83 792.99,358.66 791.56,359.48 C790.13,360.31 788.70,361.12 787.27,361.93 C785.84,362.75 784.40,363.56 782.96,364.36 C781.52,365.17 780.08,365.97 778.63,366.77 C777.19,367.57 775.75,368.37 774.30,369.17 C772.86,369.96 771.41,370.76 769.96,371.55 C768.52,372.35 767.07,373.15 765.63,373.94 C764.18,374.74 762.74,375.54 761.29,376.34 C759.85,377.14 758.41,377.94 756.97,378.74 C755.53,379.55 754.10,380.36 752.66,381.17 C751.23,381.98 749.80,382.80 748.38,383.62 C746.95,384.44 745.53,385.27 744.11,386.10 C742.70,386.93 741.29,387.77 739.88,388.62 C738.48,389.46 737.08,390.31 735.68,391.18 C734.29,392.04 732.90,392.91 731.52,393.78 C730.14,394.66 728.77,395.55 727.41,396.45 C726.04,397.35 724.69,398.25 723.34,399.17 C721.99,400.09 720.65,401.02 719.32,401.97 C718.00,402.91 716.68,403.87 715.37,404.83 C714.06,405.80 712.76,406.79 711.48,407.78 C710.19,408.78 708.91,409.79 707.65,410.82 C706.39,411.84 705.14,412.88 703.90,413.94 C702.66,415.00 701.43,416.07 700.22,417.16 C699.01,418.26 697.81,419.37 696.63,420.49 C695.45,421.62 694.28,422.77 693.14,423.94 C692.00,425.10 690.88,426.29 689.80,427.51 C688.72,428.72 687.66,429.96 686.66,431.22 C685.65,432.49 684.68,433.78 683.77,435.10 C682.87,436.43 682.00,437.78 681.20,439.16 C680.41,440.55 679.66,441.97 679.00,443.42 C678.33,444.88 677.73,446.37 677.21,447.89 C676.69,449.42 676.26,451.00 675.88,452.58 C675.49,454.18 675.20,455.81 674.91,457.45 C674.61,459.09 674.38,460.75 674.13,462.41 C673.87,464.07 673.65,465.73 673.38,467.39 C673.11,469.03 672.84,470.68 672.49,472.30 C672.14,473.91 671.77,475.51 671.29,477.07 C670.82,478.62 670.27,480.16 669.62,481.63 C668.97,483.10 668.22,484.53 667.39,485.91 C666.55,487.30 665.62,488.63 664.64,489.92 C663.64,491.22 662.56,492.46 661.44,493.66 C660.31,494.87 659.11,496.02 657.87,497.14 C656.62,498.26 655.32,499.33 653.99,500.36 C652.66,501.39 651.28,502.38 649.89,503.32 C648.49,504.27 647.06,505.18 645.61,506.04 C644.18,506.91 642.72,507.74 641.24,508.52 C639.78,509.31 638.30,510.05 636.81,510.75 C635.32,511.44 633.81,512.10 632.30,512.71 C630.79,513.31 629.26,513.87 627.72,514.37 C626.19,514.88 624.64,515.33 623.08,515.73 C621.52,516.13 619.95,516.48 618.37,516.77 C616.79,517.05 615.20,517.29 613.60,517.45 C612.00,517.62 610.39,517.73 608.77,517.78 C607.15,517.83 605.52,517.81 603.89,517.74 C602.25,517.67 600.61,517.54 598.98,517.37 C597.33,517.20 595.69,516.97 594.05,516.71 C592.41,516.44 590.77,516.13 589.14,515.80 C587.51,515.47 585.88,515.09 584.25,514.73 C582.62,514.36 580.99,513.97 579.37,513.60 C577.75,513.23 576.13,512.85 574.51,512.51 C572.89,512.17 571.28,511.84 569.66,511.56 C568.05,511.28 566.44,511.03 564.83,510.84 C563.23,510.66 561.62,510.51 560.01,510.46 C558.41,510.40 556.81,510.41 555.21,510.49 C553.62,510.57 552.02,510.73 550.43,510.94 C548.84,511.16 547.25,511.44 545.67,511.76 C544.08,512.09 542.50,512.48 540.92,512.90 C539.34,513.32 537.76,513.79 536.20,514.28 C534.62,514.78 533.06,515.31 531.49,515.87 C529.93,516.42 528.37,517.00 526.82,517.59 C525.26,518.18 523.71,518.80 522.16,519.41 C520.62,520.02 519.08,520.64 517.54,521.25 C516.00,521.87 514.47,522.48 512.94,523.10 C511.41,523.71 509.89,524.33 508.36,524.95 C506.84,525.56 505.32,526.17 503.81,526.79 C502.29,527.40 500.78,528.01 499.26,528.63 C497.75,529.24 496.24,529.85 494.73,530.47 C493.23,531.08 491.72,531.69 490.21,532.30 C488.71,532.91 487.20,533.52 485.70,534.13 C484.19,534.74 482.68,535.35 481.18,535.96 C479.67,536.57 478.17,537.18 476.66,537.79 C475.15,538.40 473.64,539.00 472.13,539.61 C470.62,540.22 469.11,540.82 467.60,541.43 C466.08,542.03 464.57,542.64 463.05,543.24 C461.53,543.85 460.00,544.45 458.48,545.05 C456.95,545.66 455.42,546.26 453.89,546.86 C452.35,547.46 450.82,548.06 449.28,548.66 C447.73,549.26 446.18,549.86 444.63,550.46 C443.08,551.05 441.52,551.65 439.96,552.21 C438.40,552.77 436.83,553.32 435.25,553.81 C433.69,554.29 432.11,554.75 430.52,555.13 C428.94,555.50 427.35,555.83 425.75,556.05 C424.16,556.27 422.56,556.42 420.96,556.45 C419.36,556.49 417.74,556.41 416.14,556.24 C414.54,556.07 412.93,555.79 411.35,555.42 C409.76,555.05 408.18,554.58 406.64,554.04 C405.08,553.49 403.55,552.85 402.06,552.14 C400.56,551.43 399.09,550.63 397.66,549.77 C396.24,548.91 394.85,547.97 393.52,546.97 C392.18,545.97 390.89,544.90 389.66,543.78 C388.44,542.66 387.26,541.48 386.14,540.25 C385.04,539.02 383.98,537.73 383.00,536.40 C382.02,535.08 381.11,533.70 380.27,532.29 C379.44,530.88 378.68,529.42 378.01,527.94 C377.34,526.45 376.74,524.93 376.24,523.39 C375.74,521.85 375.33,520.27 375.01,518.68 C374.69,517.10 374.47,515.48 374.34,513.86 C374.22,512.24 374.18,510.60 374.25,508.97 Z" stroke="#964250"/>
<path d="M483.73,224.99 C483.71,223.12 483.90,221.20 484.25,219.34 C484.60,217.48 485.15,215.60 485.85,213.84 C486.55,212.09 487.42,210.37 488.44,208.82 C489.45,207.30 490.62,205.85 491.92,204.61 C493.19,203.39 494.64,202.32 496.14,201.40 C497.65,200.48 499.29,199.74 500.94,199.10 C502.61,198.47 504.37,197.99 506.13,197.60 C507.89,197.21 509.71,196.95 511.51,196.77 C513.31,196.58 515.14,196.51 516.95,196.50 C518.78,196.48 520.61,196.56 522.44,196.68 C524.28,196.79 526.11,196.98 527.95,197.19 C529.79,197.40 531.64,197.66 533.48,197.92 C535.32,198.18 537.16,198.48 539.01,198.76 C540.85,199.04 542.69,199.32 544.52,199.60 C546.36,199.87 548.19,200.14 550.03,200.41 C551.86,200.67 553.69,200.93 555.52,201.19 C557.35,201.44 559.18,201.70 561.00,201.94 C562.83,202.19 564.65,202.44 566.48,202.68 C568.30,202.92 570.12,203.16 571.94,203.39 C573.76,203.63 575.58,203.86 577.40,204.09 C579.21,204.32 581.03,204.55 582.85,204.78 C584.66,205.01 586.48,205.23 588.29,205.46 C590.11,205.68 591.92,205.90 593.74,206.13 C595.55,206.35 597.36,206.57 599.18,206.79 C600.99,207.02 602.80,207.24 604.62,207.46 C606.43,207.68 608.24,207.91 610.06,208.13 C611.87,208.35 613.68,208.58 615.50,208.80 C617.31,209.03 619.13,209.26 620.94,209.48 C622.76,209.71 624.57,209.94 626.39,210.16 C628.20,210.39 630.02,210.62 631.83,210.85 C633.65,211.08 635.46,211.31 637.28,211.54 C639.10,211.77 640.91,211.99 642.73,212.22 C644.55,212.45 646.37,212.68 648.18,212.91 C650.00,213.14 651.82,213.37 653.64,213.59 C655.46,213.82 657.27,214.05 659.09,214.27 C660.91,214.50 662.73,214.73 664.55,214.95 C666.37,215.18 668.19,215.40 670.01,215.62 C671.83,215.85 673.65,216.07 675.47,216.29 C677.29,216.51 679.11,216.73 680.93,216.95 C682.75,217.16 684.58,217.38 686.40,217.60 C688.22,217.81 690.04,218.02 691.86,218.24 C693.69,218.45 695.51,218.66 697.33,218.86 C699.16,219.07 700.98,219.28 702.80,219.48 C704.63,219.69 706.45,219.89 708.28,220.09 C710.10,220.28 711.93,220.48 713.75,220.68 C715.58,220.87 717.40,221.06 719.23,221.25 C721.05,221.44 722.88,221.63 724.71,221.81 C726.53,221.99 728.36,222.17 730.19,222.35 C732.01,222.53 733.84,222.70 735.67,222.87 C737.50,223.04 739.32,223.21 741.15,223.38 C742.98,223.54 744.81,223.70 746.64,223.86 C748.47,224.02 750.30,224.17 752.13,224.32 C753.96,224.47 755.79,224.61 757.62,224.76 C759.45,224.90 761.28,225.04 763.11,225.17 C764.94,225.31 766.77,225.44 768.60,225.57 C770.44,225.69 772.27,225.82 774.10,225.94 C775.93,226.06 777.76,226.18 779.60,226.30 C781.43,226.41 783.26,226.52 785.09,226.63 C786.93,226.74 788.76,226.85 790.59,226.96 C792.43,227.06 794.26,227.17 796.09,227.27 C797.93,227.37 799.76,227.47 801.59,227.56 C803.43,227.66 805.26,227.75 807.09,227.85 C808.93,227.94 810.76,228.03 812.59,228.12 C814.43,228.21 816.26,228.30 818.09,228.39 C819.93,228.48 821.76,228.56 823.59,228.65 C825.43,228.73 827.26,228.82 829.09,228.90 C830.93,228.98 832.76,229.07 834.59,229.15 C836.42,229.23 838.26,229.31 840.09,229.40 C841.92,229.48 843.75,229.56 845.58,229.64 C847.42,229.72 849.25,229.80 851.08,229.88 C852.91,229.96 854.74,230.05 856.57,230.13 C858.40,230.21 860.23,230.29 862.06,230.37 C863.90,230.46 865.72,230.54 867.55,230.63 C869.38,230.71 871.21,230.80 873.04,230.88 C874.87,230.97 876.70,231.06 878.53,231.14 C880.35,231.23 882.18,231.32 884.01,231.42 C885.84,231.51 887.66,231.60 889.49,231.70 C891.32,231.79 893.14,231.89 894.97,231.99 C896.79,232.09 898.62,232.19 900.44,232.29 C902.27,232.39 904.09,232.49 905.92,232.60 C907.74,232.71 909.57,232.81 911.39,232.92 C913.22,233.03 915.04,233.15 916.87,233.26 C918.70,233.37 920.52,233.49 922.35,233.61 C924.18,233.72 926.00,233.84 927.83,233.97 C929.66,234.09 931.49,234.21 933.32,234.34 C935.14,234.46 936.97,234.59 938.81,234.72 C940.64,234.85 942.47,234.99 944.30,235.12 C946.14,235.26 947.97,235.40 949.80,235.54 C951.64,235.68 953.48,235.82 955.31,235.96 C957.15,236.11 958.99,236.25 960.83,236.40 C962.67,236.55 964.52,236.70 966.36,236.86 C968.21,237.01 970.05,237.17 971.90,237.33 C973.75,237.49 975.60,237.65 977.45,237.82 C979.30,237.98 981.16,238.13 983.00,238.34 C984.82,238.55 986.66,238.76 988.44,239.10 C990.21,239.44 991.97,239.81 993.64,240.37 C995.30,240.93 996.93,241.59 998.44,242.45 C999.95,243.32 1001.39,244.38 1002.70,245.56 C1004.03,246.76 1005.25,248.15 1006.35,249.60 C1007.47,251.07 1008.47,252.69 1009.34,254.33 C1010.23,255.98 1010.99,257.74 1011.63,259.50 C1012.26,261.25 1012.76,263.07 1013.16,264.88 C1013.55,266.68 1013.81,268.51 1014.00,270.33 C1014.19,272.16 1014.27,274.01 1014.30,275.85 C1014.34,277.69 1014.29,279.54 1014.23,281.39 C1014.16,283.25 1014.04,285.10 1013.92,286.95 C1013.80,288.80 1013.66,290.65 1013.53,292.50 C1013.39,294.35 1013.25,296.19 1013.10,298.03 C1012.95,299.87 1012.79,301.70 1012.61,303.54 C1012.44,305.37 1012.26,307.19 1012.05,309.02 C1011.85,310.84 1011.64,312.66 1011.40,314.48 C1011.16,316.29 1010.91,318.10 1010.63,319.91 C1010.34,321.71 1010.04,323.51 1009.71,325.31 C1009.39,327.10 1009.03,328.89 1008.66,330.68 C1008.28,332.46 1007.88,334.24 1007.45,336.02 C1007.02,337.79 1006.57,339.56 1006.10,341.32 C1005.62,343.08 1005.13,344.84 1004.61,346.59 C1004.08,348.34 1003.54,350.08 1002.97,351.81 C1002.40,353.55 1001.81,355.28 1001.20,357.00 C1000.58,358.72 999.95,360.43 999.29,362.14 C998.63,363.84 997.94,365.54 997.24,367.23 C996.54,368.92 995.81,370.60 995.06,372.27 C994.31,373.95 993.54,375.61 992.75,377.27 C991.96,378.92 991.15,380.57 990.31,382.21 C989.48,383.84 988.62,385.47 987.75,387.09 C986.87,388.71 985.97,390.32 985.05,391.92 C984.14,393.51 983.20,395.10 982.24,396.68 C981.28,398.26 980.30,399.83 979.30,401.38 C978.30,402.94 977.29,404.49 976.25,406.02 C975.21,407.55 974.15,409.07 973.07,410.57 C971.99,412.07 970.88,413.55 969.76,415.02 C968.63,416.48 967.49,417.93 966.32,419.35 C965.15,420.78 963.95,422.18 962.74,423.56 C961.52,424.93 960.28,426.28 959.02,427.61 C957.75,428.93 956.46,430.23 955.15,431.49 C953.84,432.75 952.50,433.99 951.13,435.19 C949.77,436.39 948.38,437.56 946.96,438.69 C945.55,439.82 944.10,440.92 942.63,441.98 C941.16,443.04 939.66,444.06 938.14,445.03 C936.61,446.01 935.06,446.94 933.48,447.83 C931.90,448.72 930.29,449.57 928.65,450.37 C927.01,451.17 925.34,451.92 923.64,452.62 C921.95,453.33 920.22,453.98 918.48,454.59 C916.74,455.19 914.97,455.75 913.18,456.26 C911.40,456.77 909.59,457.23 907.78,457.63 C905.96,458.04 904.13,458.40 902.29,458.71 C900.45,459.02 898.60,459.28 896.74,459.48 C894.89,459.69 893.02,459.85 891.16,459.95 C889.29,460.05 887.43,460.11 885.56,460.11 C883.70,460.11 881.84,460.05 879.98,459.95 C878.13,459.84 876.28,459.69 874.44,459.48 C872.60,459.26 870.77,459.00 868.95,458.68 C867.14,458.36 865.34,457.99 863.56,457.56 C861.78,457.14 860.02,456.66 858.28,456.12 C856.54,455.58 854.82,454.99 853.13,454.35 C851.44,453.70 849.78,453.00 848.14,452.24 C846.50,451.49 844.89,450.68 843.30,449.83 C841.72,448.97 840.16,448.06 838.62,447.12 C837.09,446.17 835.58,445.17 834.10,444.14 C832.62,443.10 831.16,442.02 829.73,440.90 C828.29,439.79 826.89,438.63 825.51,437.44 C824.12,436.25 822.77,435.02 821.43,433.76 C820.10,432.51 818.79,431.21 817.51,429.90 C816.23,428.58 814.97,427.23 813.73,425.86 C812.50,424.49 811.29,423.09 810.10,421.67 C808.91,420.25 807.75,418.81 806.61,417.35 C805.47,415.90 804.35,414.42 803.26,412.92 C802.16,411.43 801.09,409.93 800.05,408.41 C799.00,406.89 797.98,405.36 796.97,403.82 C795.96,402.28 794.98,400.72 794.01,399.17 C793.04,397.61 792.08,396.04 791.14,394.47 C790.19,392.90 789.27,391.32 788.34,389.74 C787.42,388.15 786.51,386.57 785.60,384.98 C784.69,383.39 783.79,381.80 782.88,380.20 C781.98,378.61 781.08,377.02 780.18,375.43 C779.28,373.84 778.37,372.25 777.46,370.66 C776.55,369.07 775.64,367.49 774.71,365.91 C773.78,364.33 772.85,362.76 771.90,361.19 C770.95,359.63 769.99,358.07 769.02,356.52 C768.04,354.97 767.05,353.42 766.04,351.89 C765.03,350.36 764.00,348.84 762.96,347.33 C761.92,345.82 760.86,344.32 759.79,342.83 C758.71,341.34 757.62,339.86 756.51,338.40 C755.40,336.93 754.28,335.48 753.14,334.04 C752.00,332.60 750.84,331.18 749.66,329.77 C748.49,328.36 747.30,326.96 746.09,325.58 C744.88,324.21 743.66,322.84 742.42,321.49 C741.17,320.15 739.92,318.82 738.64,317.50 C737.36,316.19 736.07,314.89 734.76,313.61 C733.45,312.34 732.12,311.08 730.78,309.84 C729.43,308.60 728.07,307.38 726.69,306.18 C725.32,304.98 723.92,303.80 722.50,302.65 C721.09,301.49 719.66,300.36 718.21,299.25 C716.75,298.14 715.28,297.06 713.79,296.01 C712.30,294.95 710.79,293.93 709.26,292.93 C707.73,291.94 706.18,290.97 704.61,290.04 C703.04,289.10 701.44,288.21 699.83,287.34 C698.21,286.47 696.57,285.64 694.93,284.82 C693.28,284.01 691.61,283.22 689.94,282.44 C688.27,281.66 686.59,280.88 684.90,280.15 C683.21,279.41 681.51,278.70 679.80,278.03 C678.10,277.36 676.38,276.72 674.65,276.12 C672.92,275.52 671.18,274.96 669.44,274.42 C667.70,273.89 665.94,273.39 664.18,272.91 C662.42,272.44 660.66,271.99 658.88,271.57 C657.11,271.15 655.33,270.76 653.54,270.39 C651.76,270.01 649.97,269.67 648.17,269.34 C646.37,269.01 644.57,268.70 642.77,268.41 C640.96,268.12 639.15,267.84 637.34,267.58 C635.52,267.32 633.71,267.08 631.89,266.84 C630.07,266.61 628.24,266.39 626.42,266.17 C624.60,265.96 622.77,265.76 620.94,265.56 C619.11,265.36 617.29,265.17 615.46,264.98 C613.63,264.78 611.80,264.60 609.97,264.41 C608.14,264.23 606.31,264.04 604.48,263.85 C602.66,263.66 600.83,263.47 599.01,263.27 C597.18,263.08 595.36,262.88 593.54,262.67 C591.72,262.46 589.90,262.24 588.08,262.02 C586.27,261.80 584.45,261.57 582.64,261.35 C580.82,261.12 579.01,260.89 577.20,260.67 C575.38,260.44 573.57,260.21 571.76,259.99 C569.94,259.77 568.13,259.54 566.31,259.33 C564.50,259.11 562.68,258.90 560.86,258.70 C559.04,258.50 557.22,258.30 555.40,258.12 C553.57,257.93 551.75,257.76 549.92,257.59 C548.09,257.43 546.26,257.28 544.42,257.14 C542.58,257.01 540.74,256.89 538.90,256.78 C537.05,256.67 535.20,256.59 533.35,256.49 C531.50,256.39 529.65,256.30 527.80,256.18 C525.95,256.06 524.10,255.94 522.25,255.77 C520.41,255.61 518.57,255.43 516.74,255.18 C514.90,254.94 513.07,254.68 511.26,254.31 C509.46,253.95 507.66,253.55 505.91,253.00 C504.18,252.46 502.46,251.82 500.84,251.03 C499.22,250.23 497.65,249.28 496.19,248.22 C494.73,247.15 493.34,245.94 492.09,244.64 C490.84,243.35 489.67,241.92 488.67,240.42 C487.66,238.92 486.76,237.32 486.05,235.66 C485.33,234.00 484.75,232.25 484.36,230.48 C483.97,228.70 483.75,226.83 483.73,224.99 Z" stroke="#5a849a"/>
</g>
<circle cx="148.6" cy="144.3" r="8" fill="#f0c020"/><circle cx="241.5" cy="184.8" r="8" fill="#e07020"/><circle cx="241.5" cy="508.5" r="8" fill="#60c060"/><circle cx="333.2" cy="467.5" r="8" fill="#a0d060"/><circle cx="425.2" cy="508.5" r="8" fill="#f4ba66"/><circle cx="517.8" cy="467.5" r="8" fill="#d4903a"/><circle cx="609.5" cy="386.3" r="8" fill="#e8403a"/><circle cx="609.5" cy="467.5" r="8" fill="#c8393a"/><circle cx="702.2" cy="346.9" r="8" fill="#e8804a"/><circle cx="794.6" cy="306.5" r="8" fill="#8a6cb8"/><circle cx="517.8" cy="224.8" r="8" fill="#2f629b"/><circle cx="978.8" cy="266.0" r="8" fill="#3a6cc0"/>
<g font-size="20.8" fill="#262626" stroke="#262626" stroke-width="0.3">
<text x="121.2" y="184.8" textLength="74.5" lengthAdjust="spacingAndGlyphs">WTF are</text>
<text x="121.2" y="208.8" textLength="98.8" lengthAdjust="spacingAndGlyphs">you doing?</text>
<text x="222" y="465.2" textLength="97.3" lengthAdjust="spacingAndGlyphs">Old School</text>
<text x="577.3" y="435.5" font-size="21.5" textLength="24.3" lengthAdjust="spacingAndGlyphs">PR</text>
<text x="573.8" y="253.1" font-size="21.3" textLength="169.4" lengthAdjust="spacingAndGlyphs">Content Marketing</text>
</g>
</svg>
</body></html>
